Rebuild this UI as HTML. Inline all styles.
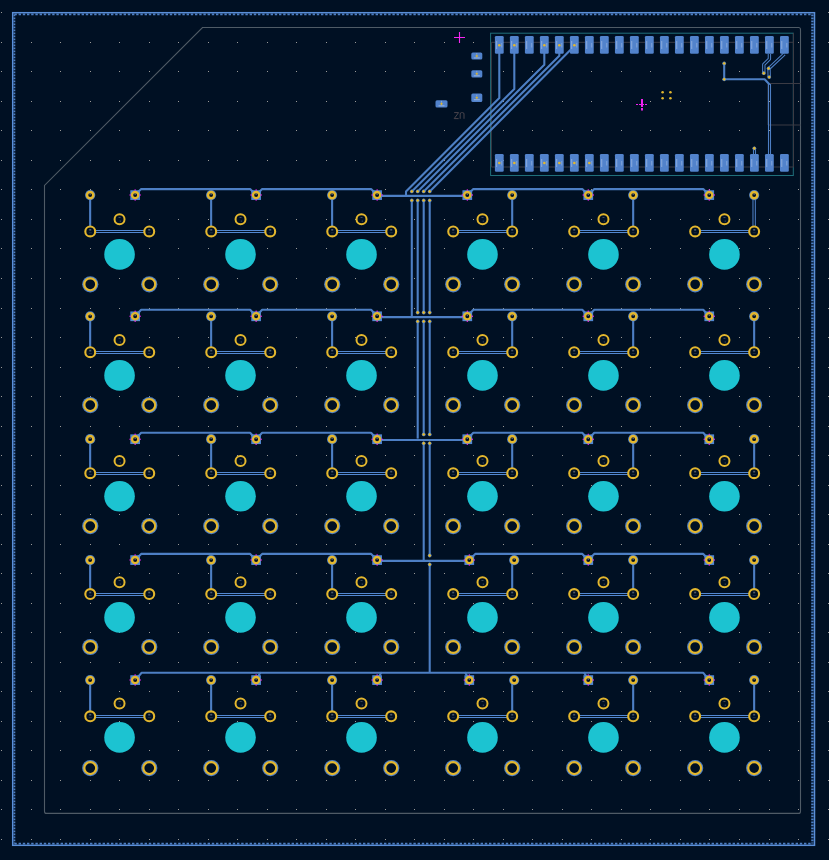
<!DOCTYPE html>
<html><head><meta charset="utf-8"><style>
html,body{margin:0;padding:0;background:#001023;width:829px;height:860px;overflow:hidden}
svg{display:block}
</style></head><body><svg width="829" height="860" viewBox="0 0 829 860"><path d="M1 12h1v1h-1zM1 42h1v1h-1zM1 71h1v1h-1zM1 101h1v1h-1zM1 130h1v1h-1zM1 160h1v1h-1zM1 189h1v1h-1zM1 219h1v1h-1zM1 248h1v1h-1zM1 278h1v1h-1zM1 308h1v1h-1zM1 337h1v1h-1zM1 367h1v1h-1zM1 396h1v1h-1zM1 426h1v1h-1zM1 455h1v1h-1zM1 485h1v1h-1zM1 514h1v1h-1zM1 544h1v1h-1zM1 573h1v1h-1zM1 603h1v1h-1zM1 632h1v1h-1zM1 662h1v1h-1zM1 691h1v1h-1zM1 721h1v1h-1zM1 750h1v1h-1zM1 780h1v1h-1zM1 809h1v1h-1zM1 839h1v1h-1zM31 12h1v1h-1zM31 42h1v1h-1zM31 71h1v1h-1zM31 101h1v1h-1zM31 130h1v1h-1zM31 160h1v1h-1zM31 189h1v1h-1zM31 219h1v1h-1zM31 248h1v1h-1zM31 278h1v1h-1zM31 308h1v1h-1zM31 337h1v1h-1zM31 367h1v1h-1zM31 396h1v1h-1zM31 426h1v1h-1zM31 455h1v1h-1zM31 485h1v1h-1zM31 514h1v1h-1zM31 544h1v1h-1zM31 573h1v1h-1zM31 603h1v1h-1zM31 632h1v1h-1zM31 662h1v1h-1zM31 691h1v1h-1zM31 721h1v1h-1zM31 750h1v1h-1zM31 780h1v1h-1zM31 809h1v1h-1zM31 839h1v1h-1zM60 12h1v1h-1zM60 42h1v1h-1zM60 71h1v1h-1zM60 101h1v1h-1zM60 130h1v1h-1zM60 160h1v1h-1zM60 189h1v1h-1zM60 219h1v1h-1zM60 248h1v1h-1zM60 278h1v1h-1zM60 308h1v1h-1zM60 337h1v1h-1zM60 367h1v1h-1zM60 396h1v1h-1zM60 426h1v1h-1zM60 455h1v1h-1zM60 485h1v1h-1zM60 514h1v1h-1zM60 544h1v1h-1zM60 573h1v1h-1zM60 603h1v1h-1zM60 632h1v1h-1zM60 662h1v1h-1zM60 691h1v1h-1zM60 721h1v1h-1zM60 750h1v1h-1zM60 780h1v1h-1zM60 809h1v1h-1zM60 839h1v1h-1zM90 12h1v1h-1zM90 42h1v1h-1zM90 71h1v1h-1zM90 101h1v1h-1zM90 130h1v1h-1zM90 160h1v1h-1zM90 189h1v1h-1zM90 219h1v1h-1zM90 248h1v1h-1zM90 278h1v1h-1zM90 308h1v1h-1zM90 337h1v1h-1zM90 367h1v1h-1zM90 396h1v1h-1zM90 426h1v1h-1zM90 455h1v1h-1zM90 485h1v1h-1zM90 514h1v1h-1zM90 544h1v1h-1zM90 573h1v1h-1zM90 603h1v1h-1zM90 632h1v1h-1zM90 662h1v1h-1zM90 691h1v1h-1zM90 721h1v1h-1zM90 750h1v1h-1zM90 780h1v1h-1zM90 809h1v1h-1zM90 839h1v1h-1zM119 12h1v1h-1zM119 42h1v1h-1zM119 71h1v1h-1zM119 101h1v1h-1zM119 130h1v1h-1zM119 160h1v1h-1zM119 189h1v1h-1zM119 219h1v1h-1zM119 248h1v1h-1zM119 278h1v1h-1zM119 308h1v1h-1zM119 337h1v1h-1zM119 367h1v1h-1zM119 396h1v1h-1zM119 426h1v1h-1zM119 455h1v1h-1zM119 485h1v1h-1zM119 514h1v1h-1zM119 544h1v1h-1zM119 573h1v1h-1zM119 603h1v1h-1zM119 632h1v1h-1zM119 662h1v1h-1zM119 691h1v1h-1zM119 721h1v1h-1zM119 750h1v1h-1zM119 780h1v1h-1zM119 809h1v1h-1zM119 839h1v1h-1zM149 12h1v1h-1zM149 42h1v1h-1zM149 71h1v1h-1zM149 101h1v1h-1zM149 130h1v1h-1zM149 160h1v1h-1zM149 189h1v1h-1zM149 219h1v1h-1zM149 248h1v1h-1zM149 278h1v1h-1zM149 308h1v1h-1zM149 337h1v1h-1zM149 367h1v1h-1zM149 396h1v1h-1zM149 426h1v1h-1zM149 455h1v1h-1zM149 485h1v1h-1zM149 514h1v1h-1zM149 544h1v1h-1zM149 573h1v1h-1zM149 603h1v1h-1zM149 632h1v1h-1zM149 662h1v1h-1zM149 691h1v1h-1zM149 721h1v1h-1zM149 750h1v1h-1zM149 780h1v1h-1zM149 809h1v1h-1zM149 839h1v1h-1zM178 12h1v1h-1zM178 42h1v1h-1zM178 71h1v1h-1zM178 101h1v1h-1zM178 130h1v1h-1zM178 160h1v1h-1zM178 189h1v1h-1zM178 219h1v1h-1zM178 248h1v1h-1zM178 278h1v1h-1zM178 308h1v1h-1zM178 337h1v1h-1zM178 367h1v1h-1zM178 396h1v1h-1zM178 426h1v1h-1zM178 455h1v1h-1zM178 485h1v1h-1zM178 514h1v1h-1zM178 544h1v1h-1zM178 573h1v1h-1zM178 603h1v1h-1zM178 632h1v1h-1zM178 662h1v1h-1zM178 691h1v1h-1zM178 721h1v1h-1zM178 750h1v1h-1zM178 780h1v1h-1zM178 809h1v1h-1zM178 839h1v1h-1zM208 12h1v1h-1zM208 42h1v1h-1zM208 71h1v1h-1zM208 101h1v1h-1zM208 130h1v1h-1zM208 160h1v1h-1zM208 189h1v1h-1zM208 219h1v1h-1zM208 248h1v1h-1zM208 278h1v1h-1zM208 308h1v1h-1zM208 337h1v1h-1zM208 367h1v1h-1zM208 396h1v1h-1zM208 426h1v1h-1zM208 455h1v1h-1zM208 485h1v1h-1zM208 514h1v1h-1zM208 544h1v1h-1zM208 573h1v1h-1zM208 603h1v1h-1zM208 632h1v1h-1zM208 662h1v1h-1zM208 691h1v1h-1zM208 721h1v1h-1zM208 750h1v1h-1zM208 780h1v1h-1zM208 809h1v1h-1zM208 839h1v1h-1zM237 12h1v1h-1zM237 42h1v1h-1zM237 71h1v1h-1zM237 101h1v1h-1zM237 130h1v1h-1zM237 160h1v1h-1zM237 189h1v1h-1zM237 219h1v1h-1zM237 248h1v1h-1zM237 278h1v1h-1zM237 308h1v1h-1zM237 337h1v1h-1zM237 367h1v1h-1zM237 396h1v1h-1zM237 426h1v1h-1zM237 455h1v1h-1zM237 485h1v1h-1zM237 514h1v1h-1zM237 544h1v1h-1zM237 573h1v1h-1zM237 603h1v1h-1zM237 632h1v1h-1zM237 662h1v1h-1zM237 691h1v1h-1zM237 721h1v1h-1zM237 750h1v1h-1zM237 780h1v1h-1zM237 809h1v1h-1zM237 839h1v1h-1zM267 12h1v1h-1zM267 42h1v1h-1zM267 71h1v1h-1zM267 101h1v1h-1zM267 130h1v1h-1zM267 160h1v1h-1zM267 189h1v1h-1zM267 219h1v1h-1zM267 248h1v1h-1zM267 278h1v1h-1zM267 308h1v1h-1zM267 337h1v1h-1zM267 367h1v1h-1zM267 396h1v1h-1zM267 426h1v1h-1zM267 455h1v1h-1zM267 485h1v1h-1zM267 514h1v1h-1zM267 544h1v1h-1zM267 573h1v1h-1zM267 603h1v1h-1zM267 632h1v1h-1zM267 662h1v1h-1zM267 691h1v1h-1zM267 721h1v1h-1zM267 750h1v1h-1zM267 780h1v1h-1zM267 809h1v1h-1zM267 839h1v1h-1zM296 12h1v1h-1zM296 42h1v1h-1zM296 71h1v1h-1zM296 101h1v1h-1zM296 130h1v1h-1zM296 160h1v1h-1zM296 189h1v1h-1zM296 219h1v1h-1zM296 248h1v1h-1zM296 278h1v1h-1zM296 308h1v1h-1zM296 337h1v1h-1zM296 367h1v1h-1zM296 396h1v1h-1zM296 426h1v1h-1zM296 455h1v1h-1zM296 485h1v1h-1zM296 514h1v1h-1zM296 544h1v1h-1zM296 573h1v1h-1zM296 603h1v1h-1zM296 632h1v1h-1zM296 662h1v1h-1zM296 691h1v1h-1zM296 721h1v1h-1zM296 750h1v1h-1zM296 780h1v1h-1zM296 809h1v1h-1zM296 839h1v1h-1zM326 12h1v1h-1zM326 42h1v1h-1zM326 71h1v1h-1zM326 101h1v1h-1zM326 130h1v1h-1zM326 160h1v1h-1zM326 189h1v1h-1zM326 219h1v1h-1zM326 248h1v1h-1zM326 278h1v1h-1zM326 308h1v1h-1zM326 337h1v1h-1zM326 367h1v1h-1zM326 396h1v1h-1zM326 426h1v1h-1zM326 455h1v1h-1zM326 485h1v1h-1zM326 514h1v1h-1zM326 544h1v1h-1zM326 573h1v1h-1zM326 603h1v1h-1zM326 632h1v1h-1zM326 662h1v1h-1zM326 691h1v1h-1zM326 721h1v1h-1zM326 750h1v1h-1zM326 780h1v1h-1zM326 809h1v1h-1zM326 839h1v1h-1zM355 12h1v1h-1zM355 42h1v1h-1zM355 71h1v1h-1zM355 101h1v1h-1zM355 130h1v1h-1zM355 160h1v1h-1zM355 189h1v1h-1zM355 219h1v1h-1zM355 248h1v1h-1zM355 278h1v1h-1zM355 308h1v1h-1zM355 337h1v1h-1zM355 367h1v1h-1zM355 396h1v1h-1zM355 426h1v1h-1zM355 455h1v1h-1zM355 485h1v1h-1zM355 514h1v1h-1zM355 544h1v1h-1zM355 573h1v1h-1zM355 603h1v1h-1zM355 632h1v1h-1zM355 662h1v1h-1zM355 691h1v1h-1zM355 721h1v1h-1zM355 750h1v1h-1zM355 780h1v1h-1zM355 809h1v1h-1zM355 839h1v1h-1zM385 12h1v1h-1zM385 42h1v1h-1zM385 71h1v1h-1zM385 101h1v1h-1zM385 130h1v1h-1zM385 160h1v1h-1zM385 189h1v1h-1zM385 219h1v1h-1zM385 248h1v1h-1zM385 278h1v1h-1zM385 308h1v1h-1zM385 337h1v1h-1zM385 367h1v1h-1zM385 396h1v1h-1zM385 426h1v1h-1zM385 455h1v1h-1zM385 485h1v1h-1zM385 514h1v1h-1zM385 544h1v1h-1zM385 573h1v1h-1zM385 603h1v1h-1zM385 632h1v1h-1zM385 662h1v1h-1zM385 691h1v1h-1zM385 721h1v1h-1zM385 750h1v1h-1zM385 780h1v1h-1zM385 809h1v1h-1zM385 839h1v1h-1zM414 12h1v1h-1zM414 42h1v1h-1zM414 71h1v1h-1zM414 101h1v1h-1zM414 130h1v1h-1zM414 160h1v1h-1zM414 189h1v1h-1zM414 219h1v1h-1zM414 248h1v1h-1zM414 278h1v1h-1zM414 308h1v1h-1zM414 337h1v1h-1zM414 367h1v1h-1zM414 396h1v1h-1zM414 426h1v1h-1zM414 455h1v1h-1zM414 485h1v1h-1zM414 514h1v1h-1zM414 544h1v1h-1zM414 573h1v1h-1zM414 603h1v1h-1zM414 632h1v1h-1zM414 662h1v1h-1zM414 691h1v1h-1zM414 721h1v1h-1zM414 750h1v1h-1zM414 780h1v1h-1zM414 809h1v1h-1zM414 839h1v1h-1zM444 12h1v1h-1zM444 42h1v1h-1zM444 71h1v1h-1zM444 101h1v1h-1zM444 130h1v1h-1zM444 160h1v1h-1zM444 189h1v1h-1zM444 219h1v1h-1zM444 248h1v1h-1zM444 278h1v1h-1zM444 308h1v1h-1zM444 337h1v1h-1zM444 367h1v1h-1zM444 396h1v1h-1zM444 426h1v1h-1zM444 455h1v1h-1zM444 485h1v1h-1zM444 514h1v1h-1zM444 544h1v1h-1zM444 573h1v1h-1zM444 603h1v1h-1zM444 632h1v1h-1zM444 662h1v1h-1zM444 691h1v1h-1zM444 721h1v1h-1zM444 750h1v1h-1zM444 780h1v1h-1zM444 809h1v1h-1zM444 839h1v1h-1zM473 12h1v1h-1zM473 42h1v1h-1zM473 71h1v1h-1zM473 101h1v1h-1zM473 130h1v1h-1zM473 160h1v1h-1zM473 189h1v1h-1zM473 219h1v1h-1zM473 248h1v1h-1zM473 278h1v1h-1zM473 308h1v1h-1zM473 337h1v1h-1zM473 367h1v1h-1zM473 396h1v1h-1zM473 426h1v1h-1zM473 455h1v1h-1zM473 485h1v1h-1zM473 514h1v1h-1zM473 544h1v1h-1zM473 573h1v1h-1zM473 603h1v1h-1zM473 632h1v1h-1zM473 662h1v1h-1zM473 691h1v1h-1zM473 721h1v1h-1zM473 750h1v1h-1zM473 780h1v1h-1zM473 809h1v1h-1zM473 839h1v1h-1zM503 12h1v1h-1zM503 42h1v1h-1zM503 71h1v1h-1zM503 101h1v1h-1zM503 130h1v1h-1zM503 160h1v1h-1zM503 189h1v1h-1zM503 219h1v1h-1zM503 248h1v1h-1zM503 278h1v1h-1zM503 308h1v1h-1zM503 337h1v1h-1zM503 367h1v1h-1zM503 396h1v1h-1zM503 426h1v1h-1zM503 455h1v1h-1zM503 485h1v1h-1zM503 514h1v1h-1zM503 544h1v1h-1zM503 573h1v1h-1zM503 603h1v1h-1zM503 632h1v1h-1zM503 662h1v1h-1zM503 691h1v1h-1zM503 721h1v1h-1zM503 750h1v1h-1zM503 780h1v1h-1zM503 809h1v1h-1zM503 839h1v1h-1zM532 12h1v1h-1zM532 42h1v1h-1zM532 71h1v1h-1zM532 101h1v1h-1zM532 130h1v1h-1zM532 160h1v1h-1zM532 189h1v1h-1zM532 219h1v1h-1zM532 248h1v1h-1zM532 278h1v1h-1zM532 308h1v1h-1zM532 337h1v1h-1zM532 367h1v1h-1zM532 396h1v1h-1zM532 426h1v1h-1zM532 455h1v1h-1zM532 485h1v1h-1zM532 514h1v1h-1zM532 544h1v1h-1zM532 573h1v1h-1zM532 603h1v1h-1zM532 632h1v1h-1zM532 662h1v1h-1zM532 691h1v1h-1zM532 721h1v1h-1zM532 750h1v1h-1zM532 780h1v1h-1zM532 809h1v1h-1zM532 839h1v1h-1zM562 12h1v1h-1zM562 42h1v1h-1zM562 71h1v1h-1zM562 101h1v1h-1zM562 130h1v1h-1zM562 160h1v1h-1zM562 189h1v1h-1zM562 219h1v1h-1zM562 248h1v1h-1zM562 278h1v1h-1zM562 308h1v1h-1zM562 337h1v1h-1zM562 367h1v1h-1zM562 396h1v1h-1zM562 426h1v1h-1zM562 455h1v1h-1zM562 485h1v1h-1zM562 514h1v1h-1zM562 544h1v1h-1zM562 573h1v1h-1zM562 603h1v1h-1zM562 632h1v1h-1zM562 662h1v1h-1zM562 691h1v1h-1zM562 721h1v1h-1zM562 750h1v1h-1zM562 780h1v1h-1zM562 809h1v1h-1zM562 839h1v1h-1zM591 12h1v1h-1zM591 42h1v1h-1zM591 71h1v1h-1zM591 101h1v1h-1zM591 130h1v1h-1zM591 160h1v1h-1zM591 189h1v1h-1zM591 219h1v1h-1zM591 248h1v1h-1zM591 278h1v1h-1zM591 308h1v1h-1zM591 337h1v1h-1zM591 367h1v1h-1zM591 396h1v1h-1zM591 426h1v1h-1zM591 455h1v1h-1zM591 485h1v1h-1zM591 514h1v1h-1zM591 544h1v1h-1zM591 573h1v1h-1zM591 603h1v1h-1zM591 632h1v1h-1zM591 662h1v1h-1zM591 691h1v1h-1zM591 721h1v1h-1zM591 750h1v1h-1zM591 780h1v1h-1zM591 809h1v1h-1zM591 839h1v1h-1zM621 12h1v1h-1zM621 42h1v1h-1zM621 71h1v1h-1zM621 101h1v1h-1zM621 130h1v1h-1zM621 160h1v1h-1zM621 189h1v1h-1zM621 219h1v1h-1zM621 248h1v1h-1zM621 278h1v1h-1zM621 308h1v1h-1zM621 337h1v1h-1zM621 367h1v1h-1zM621 396h1v1h-1zM621 426h1v1h-1zM621 455h1v1h-1zM621 485h1v1h-1zM621 514h1v1h-1zM621 544h1v1h-1zM621 573h1v1h-1zM621 603h1v1h-1zM621 632h1v1h-1zM621 662h1v1h-1zM621 691h1v1h-1zM621 721h1v1h-1zM621 750h1v1h-1zM621 780h1v1h-1zM621 809h1v1h-1zM621 839h1v1h-1zM650 12h1v1h-1zM650 42h1v1h-1zM650 71h1v1h-1zM650 101h1v1h-1zM650 130h1v1h-1zM650 160h1v1h-1zM650 189h1v1h-1zM650 219h1v1h-1zM650 248h1v1h-1zM650 278h1v1h-1zM650 308h1v1h-1zM650 337h1v1h-1zM650 367h1v1h-1zM650 396h1v1h-1zM650 426h1v1h-1zM650 455h1v1h-1zM650 485h1v1h-1zM650 514h1v1h-1zM650 544h1v1h-1zM650 573h1v1h-1zM650 603h1v1h-1zM650 632h1v1h-1zM650 662h1v1h-1zM650 691h1v1h-1zM650 721h1v1h-1zM650 750h1v1h-1zM650 780h1v1h-1zM650 809h1v1h-1zM650 839h1v1h-1zM680 12h1v1h-1zM680 42h1v1h-1zM680 71h1v1h-1zM680 101h1v1h-1zM680 130h1v1h-1zM680 160h1v1h-1zM680 189h1v1h-1zM680 219h1v1h-1zM680 248h1v1h-1zM680 278h1v1h-1zM680 308h1v1h-1zM680 337h1v1h-1zM680 367h1v1h-1zM680 396h1v1h-1zM680 426h1v1h-1zM680 455h1v1h-1zM680 485h1v1h-1zM680 514h1v1h-1zM680 544h1v1h-1zM680 573h1v1h-1zM680 603h1v1h-1zM680 632h1v1h-1zM680 662h1v1h-1zM680 691h1v1h-1zM680 721h1v1h-1zM680 750h1v1h-1zM680 780h1v1h-1zM680 809h1v1h-1zM680 839h1v1h-1zM709 12h1v1h-1zM709 42h1v1h-1zM709 71h1v1h-1zM709 101h1v1h-1zM709 130h1v1h-1zM709 160h1v1h-1zM709 189h1v1h-1zM709 219h1v1h-1zM709 248h1v1h-1zM709 278h1v1h-1zM709 308h1v1h-1zM709 337h1v1h-1zM709 367h1v1h-1zM709 396h1v1h-1zM709 426h1v1h-1zM709 455h1v1h-1zM709 485h1v1h-1zM709 514h1v1h-1zM709 544h1v1h-1zM709 573h1v1h-1zM709 603h1v1h-1zM709 632h1v1h-1zM709 662h1v1h-1zM709 691h1v1h-1zM709 721h1v1h-1zM709 750h1v1h-1zM709 780h1v1h-1zM709 809h1v1h-1zM709 839h1v1h-1zM739 12h1v1h-1zM739 42h1v1h-1zM739 71h1v1h-1zM739 101h1v1h-1zM739 130h1v1h-1zM739 160h1v1h-1zM739 189h1v1h-1zM739 219h1v1h-1zM739 248h1v1h-1zM739 278h1v1h-1zM739 308h1v1h-1zM739 337h1v1h-1zM739 367h1v1h-1zM739 396h1v1h-1zM739 426h1v1h-1zM739 455h1v1h-1zM739 485h1v1h-1zM739 514h1v1h-1zM739 544h1v1h-1zM739 573h1v1h-1zM739 603h1v1h-1zM739 632h1v1h-1zM739 662h1v1h-1zM739 691h1v1h-1zM739 721h1v1h-1zM739 750h1v1h-1zM739 780h1v1h-1zM739 809h1v1h-1zM739 839h1v1h-1zM769 12h1v1h-1zM769 42h1v1h-1zM769 71h1v1h-1zM769 101h1v1h-1zM769 130h1v1h-1zM769 160h1v1h-1zM769 189h1v1h-1zM769 219h1v1h-1zM769 248h1v1h-1zM769 278h1v1h-1zM769 308h1v1h-1zM769 337h1v1h-1zM769 367h1v1h-1zM769 396h1v1h-1zM769 426h1v1h-1zM769 455h1v1h-1zM769 485h1v1h-1zM769 514h1v1h-1zM769 544h1v1h-1zM769 573h1v1h-1zM769 603h1v1h-1zM769 632h1v1h-1zM769 662h1v1h-1zM769 691h1v1h-1zM769 721h1v1h-1zM769 750h1v1h-1zM769 780h1v1h-1zM769 809h1v1h-1zM769 839h1v1h-1zM798 12h1v1h-1zM798 42h1v1h-1zM798 71h1v1h-1zM798 101h1v1h-1zM798 130h1v1h-1zM798 160h1v1h-1zM798 189h1v1h-1zM798 219h1v1h-1zM798 248h1v1h-1zM798 278h1v1h-1zM798 308h1v1h-1zM798 337h1v1h-1zM798 367h1v1h-1zM798 396h1v1h-1zM798 426h1v1h-1zM798 455h1v1h-1zM798 485h1v1h-1zM798 514h1v1h-1zM798 544h1v1h-1zM798 573h1v1h-1zM798 603h1v1h-1zM798 632h1v1h-1zM798 662h1v1h-1zM798 691h1v1h-1zM798 721h1v1h-1zM798 750h1v1h-1zM798 780h1v1h-1zM798 809h1v1h-1zM798 839h1v1h-1zM828 12h1v1h-1zM828 42h1v1h-1zM828 71h1v1h-1zM828 101h1v1h-1zM828 130h1v1h-1zM828 160h1v1h-1zM828 189h1v1h-1zM828 219h1v1h-1zM828 248h1v1h-1zM828 278h1v1h-1zM828 308h1v1h-1zM828 337h1v1h-1zM828 367h1v1h-1zM828 396h1v1h-1zM828 426h1v1h-1zM828 455h1v1h-1zM828 485h1v1h-1zM828 514h1v1h-1zM828 544h1v1h-1zM828 573h1v1h-1zM828 603h1v1h-1zM828 632h1v1h-1zM828 662h1v1h-1zM828 691h1v1h-1zM828 721h1v1h-1zM828 750h1v1h-1zM828 780h1v1h-1zM828 809h1v1h-1zM828 839h1v1h-1z" fill="#9a9a98"/><rect x="12.7" y="12.7" width="801.8" height="832.6" fill="none" stroke="#5a8fd8" stroke-width="1.5"/><path d="M14.4 14.4V843.6" stroke="#4d7fc4" stroke-width="1.8" stroke-dasharray="1.8 1.2"/><path d="M812.4 14.4V843.6" stroke="#4d7fc4" stroke-width="2.4" stroke-dasharray="1.8 1.2"/><path d="M14.4 14.4H812.4M14.4 843.6H812.4" stroke="#4d7fc4" stroke-width="1.8" stroke-dasharray="2.4 1.8"/><path d="M202.5 27.5H798.5Q800.5 27.5 800.5 29.5V811.4Q800.5 813.4 798.5 813.4H46.5Q44.5 813.4 44.5 811.4V185.4Z" fill="none" stroke="#4f5b66" stroke-width="1.1"/><polyline points="90.15,195.10 90.15,231.40" fill="none" stroke="#4d7fc4" stroke-width="2.1" stroke-linejoin="round" stroke-linecap="round"/><line x1="90.25" y1="230.50" x2="149.25" y2="230.50" stroke="#5288d2" stroke-width="1.1"/><line x1="90.25" y1="232.50" x2="149.25" y2="232.50" stroke="#5288d2" stroke-width="1.1"/><polyline points="211.13,195.10 211.13,231.40" fill="none" stroke="#4d7fc4" stroke-width="2.1" stroke-linejoin="round" stroke-linecap="round"/><line x1="211.23" y1="230.50" x2="270.23" y2="230.50" stroke="#5288d2" stroke-width="1.1"/><line x1="211.23" y1="232.50" x2="270.23" y2="232.50" stroke="#5288d2" stroke-width="1.1"/><polyline points="332.11,195.10 332.11,231.40" fill="none" stroke="#4d7fc4" stroke-width="2.1" stroke-linejoin="round" stroke-linecap="round"/><line x1="332.21" y1="230.50" x2="391.21" y2="230.50" stroke="#5288d2" stroke-width="1.1"/><line x1="332.21" y1="232.50" x2="391.21" y2="232.50" stroke="#5288d2" stroke-width="1.1"/><polyline points="512.19,195.10 512.19,231.40" fill="none" stroke="#4d7fc4" stroke-width="2.1" stroke-linejoin="round" stroke-linecap="round"/><line x1="453.19" y1="230.50" x2="512.19" y2="230.50" stroke="#5288d2" stroke-width="1.1"/><line x1="453.19" y1="232.50" x2="512.19" y2="232.50" stroke="#5288d2" stroke-width="1.1"/><polyline points="633.17,195.10 633.17,231.40" fill="none" stroke="#4d7fc4" stroke-width="2.1" stroke-linejoin="round" stroke-linecap="round"/><line x1="574.17" y1="230.50" x2="633.17" y2="230.50" stroke="#5288d2" stroke-width="1.1"/><line x1="574.17" y1="232.50" x2="633.17" y2="232.50" stroke="#5288d2" stroke-width="1.1"/><polyline points="754.15,195.10 754.15,231.40" fill="none" stroke="#4d7fc4" stroke-width="3.4" stroke-linejoin="round"/><polyline points="754.15,195.10 754.15,231.40" fill="none" stroke="#001023" stroke-width="1.3" stroke-linejoin="round"/><line x1="695.15" y1="230.50" x2="754.15" y2="230.50" stroke="#5288d2" stroke-width="1.1"/><line x1="695.15" y1="232.50" x2="754.15" y2="232.50" stroke="#5288d2" stroke-width="1.1"/><polyline points="135.15,195.10 141.15,189.10 250.13,189.10 256.13,195.10 262.13,189.10 371.11,189.10 377.11,195.10" fill="none" stroke="#4d7fc4" stroke-width="2.1" stroke-linejoin="round" stroke-linecap="round"/><polyline points="377.11,195.90 467.29,195.90" fill="none" stroke="#4d7fc4" stroke-width="2.1" stroke-linejoin="round" stroke-linecap="round"/><polyline points="467.29,195.10 473.29,189.10 582.27,189.10 588.27,195.10 594.27,189.10 703.25,189.10 709.25,195.10" fill="none" stroke="#4d7fc4" stroke-width="2.1" stroke-linejoin="round" stroke-linecap="round"/><circle cx="90.15" cy="195.10" r="5.10" fill="#4d7fc4"/><circle cx="90.15" cy="195.10" r="3.15" fill="#001023" stroke="#e3b72e" stroke-width="2.5"/><rect x="89.55" y="193.50" width="1.2" height="1.4" fill="#c8d0e0" opacity="0.5"/><rect x="130.30" y="190.25" width="9.7" height="9.7" fill="#5288d2"/><circle cx="135.15" cy="195.10" r="3.10" fill="#001023" stroke="#e3b72e" stroke-width="2.3"/><rect x="134.55" y="193.50" width="1.2" height="1.4" fill="#c8d0e0" opacity="0.5"/><circle cx="135.15" cy="190.10" r="0.75" fill="#ee22ee"/><circle cx="135.15" cy="200.10" r="0.75" fill="#ee22ee"/><circle cx="130.15" cy="195.10" r="0.75" fill="#ee22ee"/><circle cx="140.15" cy="195.10" r="0.75" fill="#ee22ee"/><circle cx="119.55" cy="219.30" r="5.00" fill="#001023" stroke="#e3b72e" stroke-width="2.0"/><circle cx="90.25" cy="231.40" r="4.95" fill="#001023" stroke="#e3b72e" stroke-width="2.1"/><circle cx="149.25" cy="231.40" r="4.95" fill="#001023" stroke="#e3b72e" stroke-width="2.1"/><rect x="89.25" y="229.00" width="2" height="1.6" fill="#c0c8d8" opacity="0.4"/><rect x="88.85" y="232.30" width="3" height="0.9" fill="#8090b0" opacity="0.25"/><rect x="148.25" y="229.00" width="2" height="1.6" fill="#c0c8d8" opacity="0.4"/><rect x="147.85" y="232.30" width="3" height="0.9" fill="#8090b0" opacity="0.25"/><rect x="118.55" y="217.00" width="2" height="0.9" fill="#c0c8d8" opacity="0.35"/><rect x="119.75" y="220.50" width="1.3" height="1.3" fill="#a0b0c8" opacity="0.3"/><circle cx="119.55" cy="254.40" r="15.3" fill="#1cc3d1"/><circle cx="90.25" cy="284.30" r="8.10" fill="#4d7fc4"/><circle cx="90.25" cy="284.30" r="5.95" fill="#001023" stroke="#e3b72e" stroke-width="2.2"/><circle cx="149.25" cy="284.30" r="8.10" fill="#4d7fc4"/><circle cx="149.25" cy="284.30" r="5.95" fill="#001023" stroke="#e3b72e" stroke-width="2.2"/><circle cx="211.13" cy="195.10" r="5.10" fill="#4d7fc4"/><circle cx="211.13" cy="195.10" r="3.15" fill="#001023" stroke="#e3b72e" stroke-width="2.5"/><rect x="210.53" y="193.50" width="1.2" height="1.4" fill="#c8d0e0" opacity="0.5"/><rect x="251.28" y="190.25" width="9.7" height="9.7" fill="#5288d2"/><circle cx="256.13" cy="195.10" r="3.10" fill="#001023" stroke="#e3b72e" stroke-width="2.3"/><rect x="255.53" y="193.50" width="1.2" height="1.4" fill="#c8d0e0" opacity="0.5"/><circle cx="256.13" cy="190.10" r="0.75" fill="#ee22ee"/><circle cx="256.13" cy="200.10" r="0.75" fill="#ee22ee"/><circle cx="251.13" cy="195.10" r="0.75" fill="#ee22ee"/><circle cx="261.13" cy="195.10" r="0.75" fill="#ee22ee"/><circle cx="240.53" cy="219.30" r="5.00" fill="#001023" stroke="#e3b72e" stroke-width="2.0"/><circle cx="211.23" cy="231.40" r="4.95" fill="#001023" stroke="#e3b72e" stroke-width="2.1"/><circle cx="270.23" cy="231.40" r="4.95" fill="#001023" stroke="#e3b72e" stroke-width="2.1"/><rect x="210.23" y="229.00" width="2" height="1.6" fill="#c0c8d8" opacity="0.4"/><rect x="209.83" y="232.30" width="3" height="0.9" fill="#8090b0" opacity="0.25"/><rect x="269.23" y="229.00" width="2" height="1.6" fill="#c0c8d8" opacity="0.4"/><rect x="268.83" y="232.30" width="3" height="0.9" fill="#8090b0" opacity="0.25"/><rect x="239.53" y="217.00" width="2" height="0.9" fill="#c0c8d8" opacity="0.35"/><rect x="240.73" y="220.50" width="1.3" height="1.3" fill="#a0b0c8" opacity="0.3"/><circle cx="240.53" cy="254.40" r="15.3" fill="#1cc3d1"/><circle cx="211.23" cy="284.30" r="8.10" fill="#4d7fc4"/><circle cx="211.23" cy="284.30" r="5.95" fill="#001023" stroke="#e3b72e" stroke-width="2.2"/><circle cx="270.23" cy="284.30" r="8.10" fill="#4d7fc4"/><circle cx="270.23" cy="284.30" r="5.95" fill="#001023" stroke="#e3b72e" stroke-width="2.2"/><circle cx="332.11" cy="195.10" r="5.10" fill="#4d7fc4"/><circle cx="332.11" cy="195.10" r="3.15" fill="#001023" stroke="#e3b72e" stroke-width="2.5"/><rect x="331.51" y="193.50" width="1.2" height="1.4" fill="#c8d0e0" opacity="0.5"/><rect x="372.26" y="190.25" width="9.7" height="9.7" fill="#5288d2"/><circle cx="377.11" cy="195.10" r="3.10" fill="#001023" stroke="#e3b72e" stroke-width="2.3"/><rect x="376.51" y="193.50" width="1.2" height="1.4" fill="#c8d0e0" opacity="0.5"/><circle cx="377.11" cy="190.10" r="0.75" fill="#ee22ee"/><circle cx="377.11" cy="200.10" r="0.75" fill="#ee22ee"/><circle cx="372.11" cy="195.10" r="0.75" fill="#ee22ee"/><circle cx="382.11" cy="195.10" r="0.75" fill="#ee22ee"/><circle cx="361.51" cy="219.30" r="5.00" fill="#001023" stroke="#e3b72e" stroke-width="2.0"/><circle cx="332.21" cy="231.40" r="4.95" fill="#001023" stroke="#e3b72e" stroke-width="2.1"/><circle cx="391.21" cy="231.40" r="4.95" fill="#001023" stroke="#e3b72e" stroke-width="2.1"/><rect x="331.21" y="229.00" width="2" height="1.6" fill="#c0c8d8" opacity="0.4"/><rect x="330.81" y="232.30" width="3" height="0.9" fill="#8090b0" opacity="0.25"/><rect x="390.21" y="229.00" width="2" height="1.6" fill="#c0c8d8" opacity="0.4"/><rect x="389.81" y="232.30" width="3" height="0.9" fill="#8090b0" opacity="0.25"/><rect x="360.51" y="217.00" width="2" height="0.9" fill="#c0c8d8" opacity="0.35"/><rect x="361.71" y="220.50" width="1.3" height="1.3" fill="#a0b0c8" opacity="0.3"/><circle cx="361.51" cy="254.40" r="15.3" fill="#1cc3d1"/><circle cx="332.21" cy="284.30" r="8.10" fill="#4d7fc4"/><circle cx="332.21" cy="284.30" r="5.95" fill="#001023" stroke="#e3b72e" stroke-width="2.2"/><circle cx="391.21" cy="284.30" r="8.10" fill="#4d7fc4"/><circle cx="391.21" cy="284.30" r="5.95" fill="#001023" stroke="#e3b72e" stroke-width="2.2"/><circle cx="512.19" cy="195.10" r="5.10" fill="#4d7fc4"/><circle cx="512.19" cy="195.10" r="3.15" fill="#001023" stroke="#e3b72e" stroke-width="2.5"/><rect x="511.59" y="193.50" width="1.2" height="1.4" fill="#c8d0e0" opacity="0.5"/><rect x="462.44" y="190.25" width="9.7" height="9.7" fill="#5288d2"/><circle cx="467.29" cy="195.10" r="3.10" fill="#001023" stroke="#e3b72e" stroke-width="2.3"/><rect x="466.69" y="193.50" width="1.2" height="1.4" fill="#c8d0e0" opacity="0.5"/><circle cx="467.29" cy="190.10" r="0.75" fill="#ee22ee"/><circle cx="467.29" cy="200.10" r="0.75" fill="#ee22ee"/><circle cx="462.29" cy="195.10" r="0.75" fill="#ee22ee"/><circle cx="472.29" cy="195.10" r="0.75" fill="#ee22ee"/><circle cx="482.49" cy="219.30" r="5.00" fill="#001023" stroke="#e3b72e" stroke-width="2.0"/><circle cx="453.19" cy="231.40" r="4.95" fill="#001023" stroke="#e3b72e" stroke-width="2.1"/><circle cx="512.19" cy="231.40" r="4.95" fill="#001023" stroke="#e3b72e" stroke-width="2.1"/><rect x="452.19" y="229.00" width="2" height="1.6" fill="#c0c8d8" opacity="0.4"/><rect x="451.79" y="232.30" width="3" height="0.9" fill="#8090b0" opacity="0.25"/><rect x="511.19" y="229.00" width="2" height="1.6" fill="#c0c8d8" opacity="0.4"/><rect x="510.79" y="232.30" width="3" height="0.9" fill="#8090b0" opacity="0.25"/><rect x="481.49" y="217.00" width="2" height="0.9" fill="#c0c8d8" opacity="0.35"/><rect x="482.69" y="220.50" width="1.3" height="1.3" fill="#a0b0c8" opacity="0.3"/><circle cx="482.49" cy="254.40" r="15.3" fill="#1cc3d1"/><circle cx="453.19" cy="284.30" r="8.10" fill="#4d7fc4"/><circle cx="453.19" cy="284.30" r="5.95" fill="#001023" stroke="#e3b72e" stroke-width="2.2"/><circle cx="512.19" cy="284.30" r="8.10" fill="#4d7fc4"/><circle cx="512.19" cy="284.30" r="5.95" fill="#001023" stroke="#e3b72e" stroke-width="2.2"/><circle cx="633.17" cy="195.10" r="5.10" fill="#4d7fc4"/><circle cx="633.17" cy="195.10" r="3.15" fill="#001023" stroke="#e3b72e" stroke-width="2.5"/><rect x="632.57" y="193.50" width="1.2" height="1.4" fill="#c8d0e0" opacity="0.5"/><rect x="583.42" y="190.25" width="9.7" height="9.7" fill="#5288d2"/><circle cx="588.27" cy="195.10" r="3.10" fill="#001023" stroke="#e3b72e" stroke-width="2.3"/><rect x="587.67" y="193.50" width="1.2" height="1.4" fill="#c8d0e0" opacity="0.5"/><circle cx="588.27" cy="190.10" r="0.75" fill="#ee22ee"/><circle cx="588.27" cy="200.10" r="0.75" fill="#ee22ee"/><circle cx="583.27" cy="195.10" r="0.75" fill="#ee22ee"/><circle cx="593.27" cy="195.10" r="0.75" fill="#ee22ee"/><circle cx="603.47" cy="219.30" r="5.00" fill="#001023" stroke="#e3b72e" stroke-width="2.0"/><circle cx="574.17" cy="231.40" r="4.95" fill="#001023" stroke="#e3b72e" stroke-width="2.1"/><circle cx="633.17" cy="231.40" r="4.95" fill="#001023" stroke="#e3b72e" stroke-width="2.1"/><rect x="573.17" y="229.00" width="2" height="1.6" fill="#c0c8d8" opacity="0.4"/><rect x="572.77" y="232.30" width="3" height="0.9" fill="#8090b0" opacity="0.25"/><rect x="632.17" y="229.00" width="2" height="1.6" fill="#c0c8d8" opacity="0.4"/><rect x="631.77" y="232.30" width="3" height="0.9" fill="#8090b0" opacity="0.25"/><rect x="602.47" y="217.00" width="2" height="0.9" fill="#c0c8d8" opacity="0.35"/><rect x="603.67" y="220.50" width="1.3" height="1.3" fill="#a0b0c8" opacity="0.3"/><circle cx="603.47" cy="254.40" r="15.3" fill="#1cc3d1"/><circle cx="574.17" cy="284.30" r="8.10" fill="#4d7fc4"/><circle cx="574.17" cy="284.30" r="5.95" fill="#001023" stroke="#e3b72e" stroke-width="2.2"/><circle cx="633.17" cy="284.30" r="8.10" fill="#4d7fc4"/><circle cx="633.17" cy="284.30" r="5.95" fill="#001023" stroke="#e3b72e" stroke-width="2.2"/><circle cx="754.15" cy="195.10" r="5.10" fill="#4d7fc4"/><circle cx="754.15" cy="195.10" r="3.15" fill="#001023" stroke="#e3b72e" stroke-width="2.5"/><rect x="753.55" y="193.50" width="1.2" height="1.4" fill="#c8d0e0" opacity="0.5"/><rect x="704.40" y="190.25" width="9.7" height="9.7" fill="#5288d2"/><circle cx="709.25" cy="195.10" r="3.10" fill="#001023" stroke="#e3b72e" stroke-width="2.3"/><rect x="708.65" y="193.50" width="1.2" height="1.4" fill="#c8d0e0" opacity="0.5"/><circle cx="709.25" cy="190.10" r="0.75" fill="#ee22ee"/><circle cx="709.25" cy="200.10" r="0.75" fill="#ee22ee"/><circle cx="704.25" cy="195.10" r="0.75" fill="#ee22ee"/><circle cx="714.25" cy="195.10" r="0.75" fill="#ee22ee"/><circle cx="724.45" cy="219.30" r="5.00" fill="#001023" stroke="#e3b72e" stroke-width="2.0"/><circle cx="695.15" cy="231.40" r="4.95" fill="#001023" stroke="#e3b72e" stroke-width="2.1"/><circle cx="754.15" cy="231.40" r="4.95" fill="#001023" stroke="#e3b72e" stroke-width="2.1"/><rect x="694.15" y="229.00" width="2" height="1.6" fill="#c0c8d8" opacity="0.4"/><rect x="693.75" y="232.30" width="3" height="0.9" fill="#8090b0" opacity="0.25"/><rect x="753.15" y="229.00" width="2" height="1.6" fill="#c0c8d8" opacity="0.4"/><rect x="752.75" y="232.30" width="3" height="0.9" fill="#8090b0" opacity="0.25"/><rect x="723.45" y="217.00" width="2" height="0.9" fill="#c0c8d8" opacity="0.35"/><rect x="724.65" y="220.50" width="1.3" height="1.3" fill="#a0b0c8" opacity="0.3"/><circle cx="724.45" cy="254.40" r="15.3" fill="#1cc3d1"/><circle cx="695.15" cy="284.30" r="8.10" fill="#4d7fc4"/><circle cx="695.15" cy="284.30" r="5.95" fill="#001023" stroke="#e3b72e" stroke-width="2.2"/><circle cx="754.15" cy="284.30" r="8.10" fill="#4d7fc4"/><circle cx="754.15" cy="284.30" r="5.95" fill="#001023" stroke="#e3b72e" stroke-width="2.2"/><polyline points="90.15,316.30 90.15,352.20" fill="none" stroke="#4d7fc4" stroke-width="2.1" stroke-linejoin="round" stroke-linecap="round"/><line x1="90.25" y1="351.50" x2="149.25" y2="351.50" stroke="#5288d2" stroke-width="1.1"/><line x1="90.25" y1="353.50" x2="149.25" y2="353.50" stroke="#5288d2" stroke-width="1.1"/><polyline points="211.13,316.30 211.13,352.20" fill="none" stroke="#4d7fc4" stroke-width="2.1" stroke-linejoin="round" stroke-linecap="round"/><line x1="211.23" y1="351.50" x2="270.23" y2="351.50" stroke="#5288d2" stroke-width="1.1"/><line x1="211.23" y1="353.50" x2="270.23" y2="353.50" stroke="#5288d2" stroke-width="1.1"/><polyline points="332.11,316.30 332.11,352.20" fill="none" stroke="#4d7fc4" stroke-width="2.1" stroke-linejoin="round" stroke-linecap="round"/><line x1="332.21" y1="351.50" x2="391.21" y2="351.50" stroke="#5288d2" stroke-width="1.1"/><line x1="332.21" y1="353.50" x2="391.21" y2="353.50" stroke="#5288d2" stroke-width="1.1"/><polyline points="512.19,316.30 512.19,352.20" fill="none" stroke="#4d7fc4" stroke-width="2.1" stroke-linejoin="round" stroke-linecap="round"/><line x1="453.19" y1="351.50" x2="512.19" y2="351.50" stroke="#5288d2" stroke-width="1.1"/><line x1="453.19" y1="353.50" x2="512.19" y2="353.50" stroke="#5288d2" stroke-width="1.1"/><polyline points="633.17,316.30 633.17,352.20" fill="none" stroke="#4d7fc4" stroke-width="2.1" stroke-linejoin="round" stroke-linecap="round"/><line x1="574.17" y1="351.50" x2="633.17" y2="351.50" stroke="#5288d2" stroke-width="1.1"/><line x1="574.17" y1="353.50" x2="633.17" y2="353.50" stroke="#5288d2" stroke-width="1.1"/><polyline points="754.15,316.30 754.15,352.20" fill="none" stroke="#4d7fc4" stroke-width="2.1" stroke-linejoin="round" stroke-linecap="round"/><line x1="695.15" y1="351.50" x2="754.15" y2="351.50" stroke="#5288d2" stroke-width="1.1"/><line x1="695.15" y1="353.50" x2="754.15" y2="353.50" stroke="#5288d2" stroke-width="1.1"/><polyline points="135.15,316.30 141.15,309.80 250.13,309.80 256.13,316.30 262.13,309.80 371.11,309.80 377.11,316.30" fill="none" stroke="#4d7fc4" stroke-width="2.1" stroke-linejoin="round" stroke-linecap="round"/><polyline points="377.11,317.10 467.29,317.10" fill="none" stroke="#4d7fc4" stroke-width="2.1" stroke-linejoin="round" stroke-linecap="round"/><polyline points="467.29,316.30 473.29,309.80 582.27,309.80 588.27,316.30 594.27,309.80 703.25,309.80 709.25,316.30" fill="none" stroke="#4d7fc4" stroke-width="2.1" stroke-linejoin="round" stroke-linecap="round"/><circle cx="90.15" cy="316.30" r="5.10" fill="#4d7fc4"/><circle cx="90.15" cy="316.30" r="3.15" fill="#001023" stroke="#e3b72e" stroke-width="2.5"/><rect x="89.55" y="314.70" width="1.2" height="1.4" fill="#c8d0e0" opacity="0.5"/><rect x="130.30" y="311.45" width="9.7" height="9.7" fill="#5288d2"/><circle cx="135.15" cy="316.30" r="3.10" fill="#001023" stroke="#e3b72e" stroke-width="2.3"/><rect x="134.55" y="314.70" width="1.2" height="1.4" fill="#c8d0e0" opacity="0.5"/><circle cx="135.15" cy="311.30" r="0.75" fill="#ee22ee"/><circle cx="135.15" cy="321.30" r="0.75" fill="#ee22ee"/><circle cx="130.15" cy="316.30" r="0.75" fill="#ee22ee"/><circle cx="140.15" cy="316.30" r="0.75" fill="#ee22ee"/><circle cx="119.55" cy="340.10" r="5.00" fill="#001023" stroke="#e3b72e" stroke-width="2.0"/><circle cx="90.25" cy="352.20" r="4.95" fill="#001023" stroke="#e3b72e" stroke-width="2.1"/><circle cx="149.25" cy="352.20" r="4.95" fill="#001023" stroke="#e3b72e" stroke-width="2.1"/><rect x="89.25" y="349.80" width="2" height="1.6" fill="#c0c8d8" opacity="0.4"/><rect x="88.85" y="353.10" width="3" height="0.9" fill="#8090b0" opacity="0.25"/><rect x="148.25" y="349.80" width="2" height="1.6" fill="#c0c8d8" opacity="0.4"/><rect x="147.85" y="353.10" width="3" height="0.9" fill="#8090b0" opacity="0.25"/><rect x="118.55" y="337.80" width="2" height="0.9" fill="#c0c8d8" opacity="0.35"/><rect x="119.75" y="341.30" width="1.3" height="1.3" fill="#a0b0c8" opacity="0.3"/><circle cx="119.55" cy="375.40" r="15.3" fill="#1cc3d1"/><circle cx="90.25" cy="405.10" r="8.10" fill="#4d7fc4"/><circle cx="90.25" cy="405.10" r="5.95" fill="#001023" stroke="#e3b72e" stroke-width="2.2"/><circle cx="149.25" cy="405.10" r="8.10" fill="#4d7fc4"/><circle cx="149.25" cy="405.10" r="5.95" fill="#001023" stroke="#e3b72e" stroke-width="2.2"/><circle cx="211.13" cy="316.30" r="5.10" fill="#4d7fc4"/><circle cx="211.13" cy="316.30" r="3.15" fill="#001023" stroke="#e3b72e" stroke-width="2.5"/><rect x="210.53" y="314.70" width="1.2" height="1.4" fill="#c8d0e0" opacity="0.5"/><rect x="251.28" y="311.45" width="9.7" height="9.7" fill="#5288d2"/><circle cx="256.13" cy="316.30" r="3.10" fill="#001023" stroke="#e3b72e" stroke-width="2.3"/><rect x="255.53" y="314.70" width="1.2" height="1.4" fill="#c8d0e0" opacity="0.5"/><circle cx="256.13" cy="311.30" r="0.75" fill="#ee22ee"/><circle cx="256.13" cy="321.30" r="0.75" fill="#ee22ee"/><circle cx="251.13" cy="316.30" r="0.75" fill="#ee22ee"/><circle cx="261.13" cy="316.30" r="0.75" fill="#ee22ee"/><circle cx="240.53" cy="340.10" r="5.00" fill="#001023" stroke="#e3b72e" stroke-width="2.0"/><circle cx="211.23" cy="352.20" r="4.95" fill="#001023" stroke="#e3b72e" stroke-width="2.1"/><circle cx="270.23" cy="352.20" r="4.95" fill="#001023" stroke="#e3b72e" stroke-width="2.1"/><rect x="210.23" y="349.80" width="2" height="1.6" fill="#c0c8d8" opacity="0.4"/><rect x="209.83" y="353.10" width="3" height="0.9" fill="#8090b0" opacity="0.25"/><rect x="269.23" y="349.80" width="2" height="1.6" fill="#c0c8d8" opacity="0.4"/><rect x="268.83" y="353.10" width="3" height="0.9" fill="#8090b0" opacity="0.25"/><rect x="239.53" y="337.80" width="2" height="0.9" fill="#c0c8d8" opacity="0.35"/><rect x="240.73" y="341.30" width="1.3" height="1.3" fill="#a0b0c8" opacity="0.3"/><circle cx="240.53" cy="375.40" r="15.3" fill="#1cc3d1"/><circle cx="211.23" cy="405.10" r="8.10" fill="#4d7fc4"/><circle cx="211.23" cy="405.10" r="5.95" fill="#001023" stroke="#e3b72e" stroke-width="2.2"/><circle cx="270.23" cy="405.10" r="8.10" fill="#4d7fc4"/><circle cx="270.23" cy="405.10" r="5.95" fill="#001023" stroke="#e3b72e" stroke-width="2.2"/><circle cx="332.11" cy="316.30" r="5.10" fill="#4d7fc4"/><circle cx="332.11" cy="316.30" r="3.15" fill="#001023" stroke="#e3b72e" stroke-width="2.5"/><rect x="331.51" y="314.70" width="1.2" height="1.4" fill="#c8d0e0" opacity="0.5"/><rect x="372.26" y="311.45" width="9.7" height="9.7" fill="#5288d2"/><circle cx="377.11" cy="316.30" r="3.10" fill="#001023" stroke="#e3b72e" stroke-width="2.3"/><rect x="376.51" y="314.70" width="1.2" height="1.4" fill="#c8d0e0" opacity="0.5"/><circle cx="377.11" cy="311.30" r="0.75" fill="#ee22ee"/><circle cx="377.11" cy="321.30" r="0.75" fill="#ee22ee"/><circle cx="372.11" cy="316.30" r="0.75" fill="#ee22ee"/><circle cx="382.11" cy="316.30" r="0.75" fill="#ee22ee"/><circle cx="361.51" cy="340.10" r="5.00" fill="#001023" stroke="#e3b72e" stroke-width="2.0"/><circle cx="332.21" cy="352.20" r="4.95" fill="#001023" stroke="#e3b72e" stroke-width="2.1"/><circle cx="391.21" cy="352.20" r="4.95" fill="#001023" stroke="#e3b72e" stroke-width="2.1"/><rect x="331.21" y="349.80" width="2" height="1.6" fill="#c0c8d8" opacity="0.4"/><rect x="330.81" y="353.10" width="3" height="0.9" fill="#8090b0" opacity="0.25"/><rect x="390.21" y="349.80" width="2" height="1.6" fill="#c0c8d8" opacity="0.4"/><rect x="389.81" y="353.10" width="3" height="0.9" fill="#8090b0" opacity="0.25"/><rect x="360.51" y="337.80" width="2" height="0.9" fill="#c0c8d8" opacity="0.35"/><rect x="361.71" y="341.30" width="1.3" height="1.3" fill="#a0b0c8" opacity="0.3"/><circle cx="361.51" cy="375.40" r="15.3" fill="#1cc3d1"/><circle cx="332.21" cy="405.10" r="8.10" fill="#4d7fc4"/><circle cx="332.21" cy="405.10" r="5.95" fill="#001023" stroke="#e3b72e" stroke-width="2.2"/><circle cx="391.21" cy="405.10" r="8.10" fill="#4d7fc4"/><circle cx="391.21" cy="405.10" r="5.95" fill="#001023" stroke="#e3b72e" stroke-width="2.2"/><circle cx="512.19" cy="316.30" r="5.10" fill="#4d7fc4"/><circle cx="512.19" cy="316.30" r="3.15" fill="#001023" stroke="#e3b72e" stroke-width="2.5"/><rect x="511.59" y="314.70" width="1.2" height="1.4" fill="#c8d0e0" opacity="0.5"/><rect x="462.44" y="311.45" width="9.7" height="9.7" fill="#5288d2"/><circle cx="467.29" cy="316.30" r="3.10" fill="#001023" stroke="#e3b72e" stroke-width="2.3"/><rect x="466.69" y="314.70" width="1.2" height="1.4" fill="#c8d0e0" opacity="0.5"/><circle cx="467.29" cy="311.30" r="0.75" fill="#ee22ee"/><circle cx="467.29" cy="321.30" r="0.75" fill="#ee22ee"/><circle cx="462.29" cy="316.30" r="0.75" fill="#ee22ee"/><circle cx="472.29" cy="316.30" r="0.75" fill="#ee22ee"/><circle cx="482.49" cy="340.10" r="5.00" fill="#001023" stroke="#e3b72e" stroke-width="2.0"/><circle cx="453.19" cy="352.20" r="4.95" fill="#001023" stroke="#e3b72e" stroke-width="2.1"/><circle cx="512.19" cy="352.20" r="4.95" fill="#001023" stroke="#e3b72e" stroke-width="2.1"/><rect x="452.19" y="349.80" width="2" height="1.6" fill="#c0c8d8" opacity="0.4"/><rect x="451.79" y="353.10" width="3" height="0.9" fill="#8090b0" opacity="0.25"/><rect x="511.19" y="349.80" width="2" height="1.6" fill="#c0c8d8" opacity="0.4"/><rect x="510.79" y="353.10" width="3" height="0.9" fill="#8090b0" opacity="0.25"/><rect x="481.49" y="337.80" width="2" height="0.9" fill="#c0c8d8" opacity="0.35"/><rect x="482.69" y="341.30" width="1.3" height="1.3" fill="#a0b0c8" opacity="0.3"/><circle cx="482.49" cy="375.40" r="15.3" fill="#1cc3d1"/><circle cx="453.19" cy="405.10" r="8.10" fill="#4d7fc4"/><circle cx="453.19" cy="405.10" r="5.95" fill="#001023" stroke="#e3b72e" stroke-width="2.2"/><circle cx="512.19" cy="405.10" r="8.10" fill="#4d7fc4"/><circle cx="512.19" cy="405.10" r="5.95" fill="#001023" stroke="#e3b72e" stroke-width="2.2"/><circle cx="633.17" cy="316.30" r="5.10" fill="#4d7fc4"/><circle cx="633.17" cy="316.30" r="3.15" fill="#001023" stroke="#e3b72e" stroke-width="2.5"/><rect x="632.57" y="314.70" width="1.2" height="1.4" fill="#c8d0e0" opacity="0.5"/><rect x="583.42" y="311.45" width="9.7" height="9.7" fill="#5288d2"/><circle cx="588.27" cy="316.30" r="3.10" fill="#001023" stroke="#e3b72e" stroke-width="2.3"/><rect x="587.67" y="314.70" width="1.2" height="1.4" fill="#c8d0e0" opacity="0.5"/><circle cx="588.27" cy="311.30" r="0.75" fill="#ee22ee"/><circle cx="588.27" cy="321.30" r="0.75" fill="#ee22ee"/><circle cx="583.27" cy="316.30" r="0.75" fill="#ee22ee"/><circle cx="593.27" cy="316.30" r="0.75" fill="#ee22ee"/><circle cx="603.47" cy="340.10" r="5.00" fill="#001023" stroke="#e3b72e" stroke-width="2.0"/><circle cx="574.17" cy="352.20" r="4.95" fill="#001023" stroke="#e3b72e" stroke-width="2.1"/><circle cx="633.17" cy="352.20" r="4.95" fill="#001023" stroke="#e3b72e" stroke-width="2.1"/><rect x="573.17" y="349.80" width="2" height="1.6" fill="#c0c8d8" opacity="0.4"/><rect x="572.77" y="353.10" width="3" height="0.9" fill="#8090b0" opacity="0.25"/><rect x="632.17" y="349.80" width="2" height="1.6" fill="#c0c8d8" opacity="0.4"/><rect x="631.77" y="353.10" width="3" height="0.9" fill="#8090b0" opacity="0.25"/><rect x="602.47" y="337.80" width="2" height="0.9" fill="#c0c8d8" opacity="0.35"/><rect x="603.67" y="341.30" width="1.3" height="1.3" fill="#a0b0c8" opacity="0.3"/><circle cx="603.47" cy="375.40" r="15.3" fill="#1cc3d1"/><circle cx="574.17" cy="405.10" r="8.10" fill="#4d7fc4"/><circle cx="574.17" cy="405.10" r="5.95" fill="#001023" stroke="#e3b72e" stroke-width="2.2"/><circle cx="633.17" cy="405.10" r="8.10" fill="#4d7fc4"/><circle cx="633.17" cy="405.10" r="5.95" fill="#001023" stroke="#e3b72e" stroke-width="2.2"/><circle cx="754.15" cy="316.30" r="5.10" fill="#4d7fc4"/><circle cx="754.15" cy="316.30" r="3.15" fill="#001023" stroke="#e3b72e" stroke-width="2.5"/><rect x="753.55" y="314.70" width="1.2" height="1.4" fill="#c8d0e0" opacity="0.5"/><rect x="704.40" y="311.45" width="9.7" height="9.7" fill="#5288d2"/><circle cx="709.25" cy="316.30" r="3.10" fill="#001023" stroke="#e3b72e" stroke-width="2.3"/><rect x="708.65" y="314.70" width="1.2" height="1.4" fill="#c8d0e0" opacity="0.5"/><circle cx="709.25" cy="311.30" r="0.75" fill="#ee22ee"/><circle cx="709.25" cy="321.30" r="0.75" fill="#ee22ee"/><circle cx="704.25" cy="316.30" r="0.75" fill="#ee22ee"/><circle cx="714.25" cy="316.30" r="0.75" fill="#ee22ee"/><circle cx="724.45" cy="340.10" r="5.00" fill="#001023" stroke="#e3b72e" stroke-width="2.0"/><circle cx="695.15" cy="352.20" r="4.95" fill="#001023" stroke="#e3b72e" stroke-width="2.1"/><circle cx="754.15" cy="352.20" r="4.95" fill="#001023" stroke="#e3b72e" stroke-width="2.1"/><rect x="694.15" y="349.80" width="2" height="1.6" fill="#c0c8d8" opacity="0.4"/><rect x="693.75" y="353.10" width="3" height="0.9" fill="#8090b0" opacity="0.25"/><rect x="753.15" y="349.80" width="2" height="1.6" fill="#c0c8d8" opacity="0.4"/><rect x="752.75" y="353.10" width="3" height="0.9" fill="#8090b0" opacity="0.25"/><rect x="723.45" y="337.80" width="2" height="0.9" fill="#c0c8d8" opacity="0.35"/><rect x="724.65" y="341.30" width="1.3" height="1.3" fill="#a0b0c8" opacity="0.3"/><circle cx="724.45" cy="375.40" r="15.3" fill="#1cc3d1"/><circle cx="695.15" cy="405.10" r="8.10" fill="#4d7fc4"/><circle cx="695.15" cy="405.10" r="5.95" fill="#001023" stroke="#e3b72e" stroke-width="2.2"/><circle cx="754.15" cy="405.10" r="8.10" fill="#4d7fc4"/><circle cx="754.15" cy="405.10" r="5.95" fill="#001023" stroke="#e3b72e" stroke-width="2.2"/><polyline points="90.15,439.20 90.15,473.20" fill="none" stroke="#4d7fc4" stroke-width="2.1" stroke-linejoin="round" stroke-linecap="round"/><line x1="90.25" y1="472.50" x2="149.25" y2="472.50" stroke="#5288d2" stroke-width="1.1"/><line x1="90.25" y1="474.50" x2="149.25" y2="474.50" stroke="#5288d2" stroke-width="1.1"/><polyline points="211.13,439.20 211.13,473.20" fill="none" stroke="#4d7fc4" stroke-width="2.1" stroke-linejoin="round" stroke-linecap="round"/><line x1="211.23" y1="472.50" x2="270.23" y2="472.50" stroke="#5288d2" stroke-width="1.1"/><line x1="211.23" y1="474.50" x2="270.23" y2="474.50" stroke="#5288d2" stroke-width="1.1"/><polyline points="332.11,439.20 332.11,473.20" fill="none" stroke="#4d7fc4" stroke-width="2.1" stroke-linejoin="round" stroke-linecap="round"/><line x1="332.21" y1="472.50" x2="391.21" y2="472.50" stroke="#5288d2" stroke-width="1.1"/><line x1="332.21" y1="474.50" x2="391.21" y2="474.50" stroke="#5288d2" stroke-width="1.1"/><polyline points="512.19,439.20 512.19,473.20" fill="none" stroke="#4d7fc4" stroke-width="2.1" stroke-linejoin="round" stroke-linecap="round"/><line x1="453.19" y1="472.50" x2="512.19" y2="472.50" stroke="#5288d2" stroke-width="1.1"/><line x1="453.19" y1="474.50" x2="512.19" y2="474.50" stroke="#5288d2" stroke-width="1.1"/><polyline points="633.17,439.20 633.17,473.20" fill="none" stroke="#4d7fc4" stroke-width="2.1" stroke-linejoin="round" stroke-linecap="round"/><line x1="574.17" y1="472.50" x2="633.17" y2="472.50" stroke="#5288d2" stroke-width="1.1"/><line x1="574.17" y1="474.50" x2="633.17" y2="474.50" stroke="#5288d2" stroke-width="1.1"/><polyline points="754.15,439.20 754.15,473.20" fill="none" stroke="#4d7fc4" stroke-width="2.1" stroke-linejoin="round" stroke-linecap="round"/><line x1="695.15" y1="472.50" x2="754.15" y2="472.50" stroke="#5288d2" stroke-width="1.1"/><line x1="695.15" y1="474.50" x2="754.15" y2="474.50" stroke="#5288d2" stroke-width="1.1"/><polyline points="135.15,439.20 141.15,432.80 250.13,432.80 256.13,439.20 262.13,432.80 371.11,432.80 377.11,439.20" fill="none" stroke="#4d7fc4" stroke-width="2.1" stroke-linejoin="round" stroke-linecap="round"/><polyline points="377.11,440.00 467.29,440.00" fill="none" stroke="#4d7fc4" stroke-width="2.1" stroke-linejoin="round" stroke-linecap="round"/><polyline points="467.29,439.20 473.29,432.80 582.27,432.80 588.27,439.20 594.27,432.80 703.25,432.80 709.25,439.20" fill="none" stroke="#4d7fc4" stroke-width="2.1" stroke-linejoin="round" stroke-linecap="round"/><circle cx="90.15" cy="439.20" r="5.10" fill="#4d7fc4"/><circle cx="90.15" cy="439.20" r="3.15" fill="#001023" stroke="#e3b72e" stroke-width="2.5"/><rect x="89.55" y="437.60" width="1.2" height="1.4" fill="#c8d0e0" opacity="0.5"/><rect x="130.30" y="434.35" width="9.7" height="9.7" fill="#5288d2"/><circle cx="135.15" cy="439.20" r="3.10" fill="#001023" stroke="#e3b72e" stroke-width="2.3"/><rect x="134.55" y="437.60" width="1.2" height="1.4" fill="#c8d0e0" opacity="0.5"/><circle cx="135.15" cy="434.20" r="0.75" fill="#ee22ee"/><circle cx="135.15" cy="444.20" r="0.75" fill="#ee22ee"/><circle cx="130.15" cy="439.20" r="0.75" fill="#ee22ee"/><circle cx="140.15" cy="439.20" r="0.75" fill="#ee22ee"/><circle cx="119.55" cy="461.10" r="5.00" fill="#001023" stroke="#e3b72e" stroke-width="2.0"/><circle cx="90.25" cy="473.20" r="4.95" fill="#001023" stroke="#e3b72e" stroke-width="2.1"/><circle cx="149.25" cy="473.20" r="4.95" fill="#001023" stroke="#e3b72e" stroke-width="2.1"/><rect x="89.25" y="470.80" width="2" height="1.6" fill="#c0c8d8" opacity="0.4"/><rect x="88.85" y="474.10" width="3" height="0.9" fill="#8090b0" opacity="0.25"/><rect x="148.25" y="470.80" width="2" height="1.6" fill="#c0c8d8" opacity="0.4"/><rect x="147.85" y="474.10" width="3" height="0.9" fill="#8090b0" opacity="0.25"/><rect x="118.55" y="458.80" width="2" height="0.9" fill="#c0c8d8" opacity="0.35"/><rect x="119.75" y="462.30" width="1.3" height="1.3" fill="#a0b0c8" opacity="0.3"/><circle cx="119.55" cy="496.30" r="15.3" fill="#1cc3d1"/><circle cx="90.25" cy="526.10" r="8.10" fill="#4d7fc4"/><circle cx="90.25" cy="526.10" r="5.95" fill="#001023" stroke="#e3b72e" stroke-width="2.2"/><circle cx="149.25" cy="526.10" r="8.10" fill="#4d7fc4"/><circle cx="149.25" cy="526.10" r="5.95" fill="#001023" stroke="#e3b72e" stroke-width="2.2"/><circle cx="211.13" cy="439.20" r="5.10" fill="#4d7fc4"/><circle cx="211.13" cy="439.20" r="3.15" fill="#001023" stroke="#e3b72e" stroke-width="2.5"/><rect x="210.53" y="437.60" width="1.2" height="1.4" fill="#c8d0e0" opacity="0.5"/><rect x="251.28" y="434.35" width="9.7" height="9.7" fill="#5288d2"/><circle cx="256.13" cy="439.20" r="3.10" fill="#001023" stroke="#e3b72e" stroke-width="2.3"/><rect x="255.53" y="437.60" width="1.2" height="1.4" fill="#c8d0e0" opacity="0.5"/><circle cx="256.13" cy="434.20" r="0.75" fill="#ee22ee"/><circle cx="256.13" cy="444.20" r="0.75" fill="#ee22ee"/><circle cx="251.13" cy="439.20" r="0.75" fill="#ee22ee"/><circle cx="261.13" cy="439.20" r="0.75" fill="#ee22ee"/><circle cx="240.53" cy="461.10" r="5.00" fill="#001023" stroke="#e3b72e" stroke-width="2.0"/><circle cx="211.23" cy="473.20" r="4.95" fill="#001023" stroke="#e3b72e" stroke-width="2.1"/><circle cx="270.23" cy="473.20" r="4.95" fill="#001023" stroke="#e3b72e" stroke-width="2.1"/><rect x="210.23" y="470.80" width="2" height="1.6" fill="#c0c8d8" opacity="0.4"/><rect x="209.83" y="474.10" width="3" height="0.9" fill="#8090b0" opacity="0.25"/><rect x="269.23" y="470.80" width="2" height="1.6" fill="#c0c8d8" opacity="0.4"/><rect x="268.83" y="474.10" width="3" height="0.9" fill="#8090b0" opacity="0.25"/><rect x="239.53" y="458.80" width="2" height="0.9" fill="#c0c8d8" opacity="0.35"/><rect x="240.73" y="462.30" width="1.3" height="1.3" fill="#a0b0c8" opacity="0.3"/><circle cx="240.53" cy="496.30" r="15.3" fill="#1cc3d1"/><circle cx="211.23" cy="526.10" r="8.10" fill="#4d7fc4"/><circle cx="211.23" cy="526.10" r="5.95" fill="#001023" stroke="#e3b72e" stroke-width="2.2"/><circle cx="270.23" cy="526.10" r="8.10" fill="#4d7fc4"/><circle cx="270.23" cy="526.10" r="5.95" fill="#001023" stroke="#e3b72e" stroke-width="2.2"/><circle cx="332.11" cy="439.20" r="5.10" fill="#4d7fc4"/><circle cx="332.11" cy="439.20" r="3.15" fill="#001023" stroke="#e3b72e" stroke-width="2.5"/><rect x="331.51" y="437.60" width="1.2" height="1.4" fill="#c8d0e0" opacity="0.5"/><rect x="372.26" y="434.35" width="9.7" height="9.7" fill="#5288d2"/><circle cx="377.11" cy="439.20" r="3.10" fill="#001023" stroke="#e3b72e" stroke-width="2.3"/><rect x="376.51" y="437.60" width="1.2" height="1.4" fill="#c8d0e0" opacity="0.5"/><circle cx="377.11" cy="434.20" r="0.75" fill="#ee22ee"/><circle cx="377.11" cy="444.20" r="0.75" fill="#ee22ee"/><circle cx="372.11" cy="439.20" r="0.75" fill="#ee22ee"/><circle cx="382.11" cy="439.20" r="0.75" fill="#ee22ee"/><circle cx="361.51" cy="461.10" r="5.00" fill="#001023" stroke="#e3b72e" stroke-width="2.0"/><circle cx="332.21" cy="473.20" r="4.95" fill="#001023" stroke="#e3b72e" stroke-width="2.1"/><circle cx="391.21" cy="473.20" r="4.95" fill="#001023" stroke="#e3b72e" stroke-width="2.1"/><rect x="331.21" y="470.80" width="2" height="1.6" fill="#c0c8d8" opacity="0.4"/><rect x="330.81" y="474.10" width="3" height="0.9" fill="#8090b0" opacity="0.25"/><rect x="390.21" y="470.80" width="2" height="1.6" fill="#c0c8d8" opacity="0.4"/><rect x="389.81" y="474.10" width="3" height="0.9" fill="#8090b0" opacity="0.25"/><rect x="360.51" y="458.80" width="2" height="0.9" fill="#c0c8d8" opacity="0.35"/><rect x="361.71" y="462.30" width="1.3" height="1.3" fill="#a0b0c8" opacity="0.3"/><circle cx="361.51" cy="496.30" r="15.3" fill="#1cc3d1"/><circle cx="332.21" cy="526.10" r="8.10" fill="#4d7fc4"/><circle cx="332.21" cy="526.10" r="5.95" fill="#001023" stroke="#e3b72e" stroke-width="2.2"/><circle cx="391.21" cy="526.10" r="8.10" fill="#4d7fc4"/><circle cx="391.21" cy="526.10" r="5.95" fill="#001023" stroke="#e3b72e" stroke-width="2.2"/><circle cx="512.19" cy="439.20" r="5.10" fill="#4d7fc4"/><circle cx="512.19" cy="439.20" r="3.15" fill="#001023" stroke="#e3b72e" stroke-width="2.5"/><rect x="511.59" y="437.60" width="1.2" height="1.4" fill="#c8d0e0" opacity="0.5"/><rect x="462.44" y="434.35" width="9.7" height="9.7" fill="#5288d2"/><circle cx="467.29" cy="439.20" r="3.10" fill="#001023" stroke="#e3b72e" stroke-width="2.3"/><rect x="466.69" y="437.60" width="1.2" height="1.4" fill="#c8d0e0" opacity="0.5"/><circle cx="467.29" cy="434.20" r="0.75" fill="#ee22ee"/><circle cx="467.29" cy="444.20" r="0.75" fill="#ee22ee"/><circle cx="462.29" cy="439.20" r="0.75" fill="#ee22ee"/><circle cx="472.29" cy="439.20" r="0.75" fill="#ee22ee"/><circle cx="482.49" cy="461.10" r="5.00" fill="#001023" stroke="#e3b72e" stroke-width="2.0"/><circle cx="453.19" cy="473.20" r="4.95" fill="#001023" stroke="#e3b72e" stroke-width="2.1"/><circle cx="512.19" cy="473.20" r="4.95" fill="#001023" stroke="#e3b72e" stroke-width="2.1"/><rect x="452.19" y="470.80" width="2" height="1.6" fill="#c0c8d8" opacity="0.4"/><rect x="451.79" y="474.10" width="3" height="0.9" fill="#8090b0" opacity="0.25"/><rect x="511.19" y="470.80" width="2" height="1.6" fill="#c0c8d8" opacity="0.4"/><rect x="510.79" y="474.10" width="3" height="0.9" fill="#8090b0" opacity="0.25"/><rect x="481.49" y="458.80" width="2" height="0.9" fill="#c0c8d8" opacity="0.35"/><rect x="482.69" y="462.30" width="1.3" height="1.3" fill="#a0b0c8" opacity="0.3"/><circle cx="482.49" cy="496.30" r="15.3" fill="#1cc3d1"/><circle cx="453.19" cy="526.10" r="8.10" fill="#4d7fc4"/><circle cx="453.19" cy="526.10" r="5.95" fill="#001023" stroke="#e3b72e" stroke-width="2.2"/><circle cx="512.19" cy="526.10" r="8.10" fill="#4d7fc4"/><circle cx="512.19" cy="526.10" r="5.95" fill="#001023" stroke="#e3b72e" stroke-width="2.2"/><circle cx="633.17" cy="439.20" r="5.10" fill="#4d7fc4"/><circle cx="633.17" cy="439.20" r="3.15" fill="#001023" stroke="#e3b72e" stroke-width="2.5"/><rect x="632.57" y="437.60" width="1.2" height="1.4" fill="#c8d0e0" opacity="0.5"/><rect x="583.42" y="434.35" width="9.7" height="9.7" fill="#5288d2"/><circle cx="588.27" cy="439.20" r="3.10" fill="#001023" stroke="#e3b72e" stroke-width="2.3"/><rect x="587.67" y="437.60" width="1.2" height="1.4" fill="#c8d0e0" opacity="0.5"/><circle cx="588.27" cy="434.20" r="0.75" fill="#ee22ee"/><circle cx="588.27" cy="444.20" r="0.75" fill="#ee22ee"/><circle cx="583.27" cy="439.20" r="0.75" fill="#ee22ee"/><circle cx="593.27" cy="439.20" r="0.75" fill="#ee22ee"/><circle cx="603.47" cy="461.10" r="5.00" fill="#001023" stroke="#e3b72e" stroke-width="2.0"/><circle cx="574.17" cy="473.20" r="4.95" fill="#001023" stroke="#e3b72e" stroke-width="2.1"/><circle cx="633.17" cy="473.20" r="4.95" fill="#001023" stroke="#e3b72e" stroke-width="2.1"/><rect x="573.17" y="470.80" width="2" height="1.6" fill="#c0c8d8" opacity="0.4"/><rect x="572.77" y="474.10" width="3" height="0.9" fill="#8090b0" opacity="0.25"/><rect x="632.17" y="470.80" width="2" height="1.6" fill="#c0c8d8" opacity="0.4"/><rect x="631.77" y="474.10" width="3" height="0.9" fill="#8090b0" opacity="0.25"/><rect x="602.47" y="458.80" width="2" height="0.9" fill="#c0c8d8" opacity="0.35"/><rect x="603.67" y="462.30" width="1.3" height="1.3" fill="#a0b0c8" opacity="0.3"/><circle cx="603.47" cy="496.30" r="15.3" fill="#1cc3d1"/><circle cx="574.17" cy="526.10" r="8.10" fill="#4d7fc4"/><circle cx="574.17" cy="526.10" r="5.95" fill="#001023" stroke="#e3b72e" stroke-width="2.2"/><circle cx="633.17" cy="526.10" r="8.10" fill="#4d7fc4"/><circle cx="633.17" cy="526.10" r="5.95" fill="#001023" stroke="#e3b72e" stroke-width="2.2"/><circle cx="754.15" cy="439.20" r="5.10" fill="#4d7fc4"/><circle cx="754.15" cy="439.20" r="3.15" fill="#001023" stroke="#e3b72e" stroke-width="2.5"/><rect x="753.55" y="437.60" width="1.2" height="1.4" fill="#c8d0e0" opacity="0.5"/><rect x="704.40" y="434.35" width="9.7" height="9.7" fill="#5288d2"/><circle cx="709.25" cy="439.20" r="3.10" fill="#001023" stroke="#e3b72e" stroke-width="2.3"/><rect x="708.65" y="437.60" width="1.2" height="1.4" fill="#c8d0e0" opacity="0.5"/><circle cx="709.25" cy="434.20" r="0.75" fill="#ee22ee"/><circle cx="709.25" cy="444.20" r="0.75" fill="#ee22ee"/><circle cx="704.25" cy="439.20" r="0.75" fill="#ee22ee"/><circle cx="714.25" cy="439.20" r="0.75" fill="#ee22ee"/><circle cx="724.45" cy="461.10" r="5.00" fill="#001023" stroke="#e3b72e" stroke-width="2.0"/><circle cx="695.15" cy="473.20" r="4.95" fill="#001023" stroke="#e3b72e" stroke-width="2.1"/><circle cx="754.15" cy="473.20" r="4.95" fill="#001023" stroke="#e3b72e" stroke-width="2.1"/><rect x="694.15" y="470.80" width="2" height="1.6" fill="#c0c8d8" opacity="0.4"/><rect x="693.75" y="474.10" width="3" height="0.9" fill="#8090b0" opacity="0.25"/><rect x="753.15" y="470.80" width="2" height="1.6" fill="#c0c8d8" opacity="0.4"/><rect x="752.75" y="474.10" width="3" height="0.9" fill="#8090b0" opacity="0.25"/><rect x="723.45" y="458.80" width="2" height="0.9" fill="#c0c8d8" opacity="0.35"/><rect x="724.65" y="462.30" width="1.3" height="1.3" fill="#a0b0c8" opacity="0.3"/><circle cx="724.45" cy="496.30" r="15.3" fill="#1cc3d1"/><circle cx="695.15" cy="526.10" r="8.10" fill="#4d7fc4"/><circle cx="695.15" cy="526.10" r="5.95" fill="#001023" stroke="#e3b72e" stroke-width="2.2"/><circle cx="754.15" cy="526.10" r="8.10" fill="#4d7fc4"/><circle cx="754.15" cy="526.10" r="5.95" fill="#001023" stroke="#e3b72e" stroke-width="2.2"/><polyline points="90.15,560.10 90.15,594.10" fill="none" stroke="#4d7fc4" stroke-width="2.1" stroke-linejoin="round" stroke-linecap="round"/><line x1="90.25" y1="593.50" x2="149.25" y2="593.50" stroke="#5288d2" stroke-width="1.1"/><line x1="90.25" y1="595.50" x2="149.25" y2="595.50" stroke="#5288d2" stroke-width="1.1"/><polyline points="211.13,560.10 211.13,594.10" fill="none" stroke="#4d7fc4" stroke-width="2.1" stroke-linejoin="round" stroke-linecap="round"/><line x1="211.23" y1="593.50" x2="270.23" y2="593.50" stroke="#5288d2" stroke-width="1.1"/><line x1="211.23" y1="595.50" x2="270.23" y2="595.50" stroke="#5288d2" stroke-width="1.1"/><polyline points="332.11,560.10 332.11,594.10" fill="none" stroke="#4d7fc4" stroke-width="2.1" stroke-linejoin="round" stroke-linecap="round"/><line x1="332.21" y1="593.50" x2="391.21" y2="593.50" stroke="#5288d2" stroke-width="1.1"/><line x1="332.21" y1="595.50" x2="391.21" y2="595.50" stroke="#5288d2" stroke-width="1.1"/><polyline points="512.19,560.10 512.19,594.10" fill="none" stroke="#4d7fc4" stroke-width="2.1" stroke-linejoin="round" stroke-linecap="round"/><line x1="453.19" y1="593.50" x2="512.19" y2="593.50" stroke="#5288d2" stroke-width="1.1"/><line x1="453.19" y1="595.50" x2="512.19" y2="595.50" stroke="#5288d2" stroke-width="1.1"/><polyline points="633.17,560.10 633.17,594.10" fill="none" stroke="#4d7fc4" stroke-width="2.1" stroke-linejoin="round" stroke-linecap="round"/><line x1="574.17" y1="593.50" x2="633.17" y2="593.50" stroke="#5288d2" stroke-width="1.1"/><line x1="574.17" y1="595.50" x2="633.17" y2="595.50" stroke="#5288d2" stroke-width="1.1"/><polyline points="754.15,560.10 754.15,594.10" fill="none" stroke="#4d7fc4" stroke-width="2.1" stroke-linejoin="round" stroke-linecap="round"/><line x1="695.15" y1="593.50" x2="754.15" y2="593.50" stroke="#5288d2" stroke-width="1.1"/><line x1="695.15" y1="595.50" x2="754.15" y2="595.50" stroke="#5288d2" stroke-width="1.1"/><polyline points="135.15,560.10 141.15,553.90 250.13,553.90 256.13,560.10 262.13,553.90 371.11,553.90 377.11,560.10" fill="none" stroke="#4d7fc4" stroke-width="2.1" stroke-linejoin="round" stroke-linecap="round"/><polyline points="377.11,560.90 469.29,560.90" fill="none" stroke="#4d7fc4" stroke-width="2.1" stroke-linejoin="round" stroke-linecap="round"/><polyline points="469.29,560.10 475.29,553.90 582.27,553.90 588.27,560.10 594.27,553.90 703.25,553.90 709.25,560.10" fill="none" stroke="#4d7fc4" stroke-width="2.1" stroke-linejoin="round" stroke-linecap="round"/><circle cx="90.15" cy="560.10" r="5.10" fill="#4d7fc4"/><circle cx="90.15" cy="560.10" r="3.15" fill="#001023" stroke="#e3b72e" stroke-width="2.5"/><rect x="89.55" y="558.50" width="1.2" height="1.4" fill="#c8d0e0" opacity="0.5"/><rect x="130.30" y="555.25" width="9.7" height="9.7" fill="#5288d2"/><circle cx="135.15" cy="560.10" r="3.10" fill="#001023" stroke="#e3b72e" stroke-width="2.3"/><rect x="134.55" y="558.50" width="1.2" height="1.4" fill="#c8d0e0" opacity="0.5"/><circle cx="135.15" cy="555.10" r="0.75" fill="#ee22ee"/><circle cx="135.15" cy="565.10" r="0.75" fill="#ee22ee"/><circle cx="130.15" cy="560.10" r="0.75" fill="#ee22ee"/><circle cx="140.15" cy="560.10" r="0.75" fill="#ee22ee"/><circle cx="119.55" cy="582.30" r="5.00" fill="#001023" stroke="#e3b72e" stroke-width="2.0"/><circle cx="90.25" cy="594.10" r="4.95" fill="#001023" stroke="#e3b72e" stroke-width="2.1"/><circle cx="149.25" cy="594.10" r="4.95" fill="#001023" stroke="#e3b72e" stroke-width="2.1"/><rect x="89.25" y="591.70" width="2" height="1.6" fill="#c0c8d8" opacity="0.4"/><rect x="88.85" y="595.00" width="3" height="0.9" fill="#8090b0" opacity="0.25"/><rect x="148.25" y="591.70" width="2" height="1.6" fill="#c0c8d8" opacity="0.4"/><rect x="147.85" y="595.00" width="3" height="0.9" fill="#8090b0" opacity="0.25"/><rect x="118.55" y="580.00" width="2" height="0.9" fill="#c0c8d8" opacity="0.35"/><rect x="119.75" y="583.50" width="1.3" height="1.3" fill="#a0b0c8" opacity="0.3"/><circle cx="119.55" cy="617.40" r="15.3" fill="#1cc3d1"/><circle cx="90.25" cy="647.00" r="8.10" fill="#4d7fc4"/><circle cx="90.25" cy="647.00" r="5.95" fill="#001023" stroke="#e3b72e" stroke-width="2.2"/><circle cx="149.25" cy="647.00" r="8.10" fill="#4d7fc4"/><circle cx="149.25" cy="647.00" r="5.95" fill="#001023" stroke="#e3b72e" stroke-width="2.2"/><circle cx="211.13" cy="560.10" r="5.10" fill="#4d7fc4"/><circle cx="211.13" cy="560.10" r="3.15" fill="#001023" stroke="#e3b72e" stroke-width="2.5"/><rect x="210.53" y="558.50" width="1.2" height="1.4" fill="#c8d0e0" opacity="0.5"/><rect x="251.28" y="555.25" width="9.7" height="9.7" fill="#5288d2"/><circle cx="256.13" cy="560.10" r="3.10" fill="#001023" stroke="#e3b72e" stroke-width="2.3"/><rect x="255.53" y="558.50" width="1.2" height="1.4" fill="#c8d0e0" opacity="0.5"/><circle cx="256.13" cy="555.10" r="0.75" fill="#ee22ee"/><circle cx="256.13" cy="565.10" r="0.75" fill="#ee22ee"/><circle cx="251.13" cy="560.10" r="0.75" fill="#ee22ee"/><circle cx="261.13" cy="560.10" r="0.75" fill="#ee22ee"/><circle cx="240.53" cy="582.30" r="5.00" fill="#001023" stroke="#e3b72e" stroke-width="2.0"/><circle cx="211.23" cy="594.10" r="4.95" fill="#001023" stroke="#e3b72e" stroke-width="2.1"/><circle cx="270.23" cy="594.10" r="4.95" fill="#001023" stroke="#e3b72e" stroke-width="2.1"/><rect x="210.23" y="591.70" width="2" height="1.6" fill="#c0c8d8" opacity="0.4"/><rect x="209.83" y="595.00" width="3" height="0.9" fill="#8090b0" opacity="0.25"/><rect x="269.23" y="591.70" width="2" height="1.6" fill="#c0c8d8" opacity="0.4"/><rect x="268.83" y="595.00" width="3" height="0.9" fill="#8090b0" opacity="0.25"/><rect x="239.53" y="580.00" width="2" height="0.9" fill="#c0c8d8" opacity="0.35"/><rect x="240.73" y="583.50" width="1.3" height="1.3" fill="#a0b0c8" opacity="0.3"/><circle cx="240.53" cy="617.40" r="15.3" fill="#1cc3d1"/><circle cx="211.23" cy="647.00" r="8.10" fill="#4d7fc4"/><circle cx="211.23" cy="647.00" r="5.95" fill="#001023" stroke="#e3b72e" stroke-width="2.2"/><circle cx="270.23" cy="647.00" r="8.10" fill="#4d7fc4"/><circle cx="270.23" cy="647.00" r="5.95" fill="#001023" stroke="#e3b72e" stroke-width="2.2"/><circle cx="332.11" cy="560.10" r="5.10" fill="#4d7fc4"/><circle cx="332.11" cy="560.10" r="3.15" fill="#001023" stroke="#e3b72e" stroke-width="2.5"/><rect x="331.51" y="558.50" width="1.2" height="1.4" fill="#c8d0e0" opacity="0.5"/><rect x="372.26" y="555.25" width="9.7" height="9.7" fill="#5288d2"/><circle cx="377.11" cy="560.10" r="3.10" fill="#001023" stroke="#e3b72e" stroke-width="2.3"/><rect x="376.51" y="558.50" width="1.2" height="1.4" fill="#c8d0e0" opacity="0.5"/><circle cx="377.11" cy="555.10" r="0.75" fill="#ee22ee"/><circle cx="377.11" cy="565.10" r="0.75" fill="#ee22ee"/><circle cx="372.11" cy="560.10" r="0.75" fill="#ee22ee"/><circle cx="382.11" cy="560.10" r="0.75" fill="#ee22ee"/><circle cx="361.51" cy="582.30" r="5.00" fill="#001023" stroke="#e3b72e" stroke-width="2.0"/><circle cx="332.21" cy="594.10" r="4.95" fill="#001023" stroke="#e3b72e" stroke-width="2.1"/><circle cx="391.21" cy="594.10" r="4.95" fill="#001023" stroke="#e3b72e" stroke-width="2.1"/><rect x="331.21" y="591.70" width="2" height="1.6" fill="#c0c8d8" opacity="0.4"/><rect x="330.81" y="595.00" width="3" height="0.9" fill="#8090b0" opacity="0.25"/><rect x="390.21" y="591.70" width="2" height="1.6" fill="#c0c8d8" opacity="0.4"/><rect x="389.81" y="595.00" width="3" height="0.9" fill="#8090b0" opacity="0.25"/><rect x="360.51" y="580.00" width="2" height="0.9" fill="#c0c8d8" opacity="0.35"/><rect x="361.71" y="583.50" width="1.3" height="1.3" fill="#a0b0c8" opacity="0.3"/><circle cx="361.51" cy="617.40" r="15.3" fill="#1cc3d1"/><circle cx="332.21" cy="647.00" r="8.10" fill="#4d7fc4"/><circle cx="332.21" cy="647.00" r="5.95" fill="#001023" stroke="#e3b72e" stroke-width="2.2"/><circle cx="391.21" cy="647.00" r="8.10" fill="#4d7fc4"/><circle cx="391.21" cy="647.00" r="5.95" fill="#001023" stroke="#e3b72e" stroke-width="2.2"/><circle cx="514.19" cy="560.10" r="5.10" fill="#4d7fc4"/><circle cx="514.19" cy="560.10" r="3.15" fill="#001023" stroke="#e3b72e" stroke-width="2.5"/><rect x="513.59" y="558.50" width="1.2" height="1.4" fill="#c8d0e0" opacity="0.5"/><rect x="464.44" y="555.25" width="9.7" height="9.7" fill="#5288d2"/><circle cx="469.29" cy="560.10" r="3.10" fill="#001023" stroke="#e3b72e" stroke-width="2.3"/><rect x="468.69" y="558.50" width="1.2" height="1.4" fill="#c8d0e0" opacity="0.5"/><circle cx="469.29" cy="555.10" r="0.75" fill="#ee22ee"/><circle cx="469.29" cy="565.10" r="0.75" fill="#ee22ee"/><circle cx="464.29" cy="560.10" r="0.75" fill="#ee22ee"/><circle cx="474.29" cy="560.10" r="0.75" fill="#ee22ee"/><circle cx="482.49" cy="582.30" r="5.00" fill="#001023" stroke="#e3b72e" stroke-width="2.0"/><circle cx="453.19" cy="594.10" r="4.95" fill="#001023" stroke="#e3b72e" stroke-width="2.1"/><circle cx="512.19" cy="594.10" r="4.95" fill="#001023" stroke="#e3b72e" stroke-width="2.1"/><rect x="452.19" y="591.70" width="2" height="1.6" fill="#c0c8d8" opacity="0.4"/><rect x="451.79" y="595.00" width="3" height="0.9" fill="#8090b0" opacity="0.25"/><rect x="511.19" y="591.70" width="2" height="1.6" fill="#c0c8d8" opacity="0.4"/><rect x="510.79" y="595.00" width="3" height="0.9" fill="#8090b0" opacity="0.25"/><rect x="481.49" y="580.00" width="2" height="0.9" fill="#c0c8d8" opacity="0.35"/><rect x="482.69" y="583.50" width="1.3" height="1.3" fill="#a0b0c8" opacity="0.3"/><circle cx="482.49" cy="617.40" r="15.3" fill="#1cc3d1"/><circle cx="453.19" cy="647.00" r="8.10" fill="#4d7fc4"/><circle cx="453.19" cy="647.00" r="5.95" fill="#001023" stroke="#e3b72e" stroke-width="2.2"/><circle cx="512.19" cy="647.00" r="8.10" fill="#4d7fc4"/><circle cx="512.19" cy="647.00" r="5.95" fill="#001023" stroke="#e3b72e" stroke-width="2.2"/><circle cx="633.17" cy="560.10" r="5.10" fill="#4d7fc4"/><circle cx="633.17" cy="560.10" r="3.15" fill="#001023" stroke="#e3b72e" stroke-width="2.5"/><rect x="632.57" y="558.50" width="1.2" height="1.4" fill="#c8d0e0" opacity="0.5"/><rect x="583.42" y="555.25" width="9.7" height="9.7" fill="#5288d2"/><circle cx="588.27" cy="560.10" r="3.10" fill="#001023" stroke="#e3b72e" stroke-width="2.3"/><rect x="587.67" y="558.50" width="1.2" height="1.4" fill="#c8d0e0" opacity="0.5"/><circle cx="588.27" cy="555.10" r="0.75" fill="#ee22ee"/><circle cx="588.27" cy="565.10" r="0.75" fill="#ee22ee"/><circle cx="583.27" cy="560.10" r="0.75" fill="#ee22ee"/><circle cx="593.27" cy="560.10" r="0.75" fill="#ee22ee"/><circle cx="603.47" cy="582.30" r="5.00" fill="#001023" stroke="#e3b72e" stroke-width="2.0"/><circle cx="574.17" cy="594.10" r="4.95" fill="#001023" stroke="#e3b72e" stroke-width="2.1"/><circle cx="633.17" cy="594.10" r="4.95" fill="#001023" stroke="#e3b72e" stroke-width="2.1"/><rect x="573.17" y="591.70" width="2" height="1.6" fill="#c0c8d8" opacity="0.4"/><rect x="572.77" y="595.00" width="3" height="0.9" fill="#8090b0" opacity="0.25"/><rect x="632.17" y="591.70" width="2" height="1.6" fill="#c0c8d8" opacity="0.4"/><rect x="631.77" y="595.00" width="3" height="0.9" fill="#8090b0" opacity="0.25"/><rect x="602.47" y="580.00" width="2" height="0.9" fill="#c0c8d8" opacity="0.35"/><rect x="603.67" y="583.50" width="1.3" height="1.3" fill="#a0b0c8" opacity="0.3"/><circle cx="603.47" cy="617.40" r="15.3" fill="#1cc3d1"/><circle cx="574.17" cy="647.00" r="8.10" fill="#4d7fc4"/><circle cx="574.17" cy="647.00" r="5.95" fill="#001023" stroke="#e3b72e" stroke-width="2.2"/><circle cx="633.17" cy="647.00" r="8.10" fill="#4d7fc4"/><circle cx="633.17" cy="647.00" r="5.95" fill="#001023" stroke="#e3b72e" stroke-width="2.2"/><circle cx="754.15" cy="560.10" r="5.10" fill="#4d7fc4"/><circle cx="754.15" cy="560.10" r="3.15" fill="#001023" stroke="#e3b72e" stroke-width="2.5"/><rect x="753.55" y="558.50" width="1.2" height="1.4" fill="#c8d0e0" opacity="0.5"/><rect x="704.40" y="555.25" width="9.7" height="9.7" fill="#5288d2"/><circle cx="709.25" cy="560.10" r="3.10" fill="#001023" stroke="#e3b72e" stroke-width="2.3"/><rect x="708.65" y="558.50" width="1.2" height="1.4" fill="#c8d0e0" opacity="0.5"/><circle cx="709.25" cy="555.10" r="0.75" fill="#ee22ee"/><circle cx="709.25" cy="565.10" r="0.75" fill="#ee22ee"/><circle cx="704.25" cy="560.10" r="0.75" fill="#ee22ee"/><circle cx="714.25" cy="560.10" r="0.75" fill="#ee22ee"/><circle cx="724.45" cy="582.30" r="5.00" fill="#001023" stroke="#e3b72e" stroke-width="2.0"/><circle cx="695.15" cy="594.10" r="4.95" fill="#001023" stroke="#e3b72e" stroke-width="2.1"/><circle cx="754.15" cy="594.10" r="4.95" fill="#001023" stroke="#e3b72e" stroke-width="2.1"/><rect x="694.15" y="591.70" width="2" height="1.6" fill="#c0c8d8" opacity="0.4"/><rect x="693.75" y="595.00" width="3" height="0.9" fill="#8090b0" opacity="0.25"/><rect x="753.15" y="591.70" width="2" height="1.6" fill="#c0c8d8" opacity="0.4"/><rect x="752.75" y="595.00" width="3" height="0.9" fill="#8090b0" opacity="0.25"/><rect x="723.45" y="580.00" width="2" height="0.9" fill="#c0c8d8" opacity="0.35"/><rect x="724.65" y="583.50" width="1.3" height="1.3" fill="#a0b0c8" opacity="0.3"/><circle cx="724.45" cy="617.40" r="15.3" fill="#1cc3d1"/><circle cx="695.15" cy="647.00" r="8.10" fill="#4d7fc4"/><circle cx="695.15" cy="647.00" r="5.95" fill="#001023" stroke="#e3b72e" stroke-width="2.2"/><circle cx="754.15" cy="647.00" r="8.10" fill="#4d7fc4"/><circle cx="754.15" cy="647.00" r="5.95" fill="#001023" stroke="#e3b72e" stroke-width="2.2"/><polyline points="90.15,680.10 90.15,716.30" fill="none" stroke="#4d7fc4" stroke-width="2.1" stroke-linejoin="round" stroke-linecap="round"/><line x1="90.25" y1="715.50" x2="149.25" y2="715.50" stroke="#5288d2" stroke-width="1.1"/><line x1="90.25" y1="717.50" x2="149.25" y2="717.50" stroke="#5288d2" stroke-width="1.1"/><polyline points="211.13,680.10 211.13,716.30" fill="none" stroke="#4d7fc4" stroke-width="2.1" stroke-linejoin="round" stroke-linecap="round"/><line x1="211.23" y1="715.50" x2="270.23" y2="715.50" stroke="#5288d2" stroke-width="1.1"/><line x1="211.23" y1="717.50" x2="270.23" y2="717.50" stroke="#5288d2" stroke-width="1.1"/><polyline points="332.11,680.10 332.11,716.30" fill="none" stroke="#4d7fc4" stroke-width="2.1" stroke-linejoin="round" stroke-linecap="round"/><line x1="332.21" y1="715.50" x2="391.21" y2="715.50" stroke="#5288d2" stroke-width="1.1"/><line x1="332.21" y1="717.50" x2="391.21" y2="717.50" stroke="#5288d2" stroke-width="1.1"/><polyline points="512.19,680.10 512.19,716.30" fill="none" stroke="#4d7fc4" stroke-width="2.1" stroke-linejoin="round" stroke-linecap="round"/><line x1="453.19" y1="715.50" x2="512.19" y2="715.50" stroke="#5288d2" stroke-width="1.1"/><line x1="453.19" y1="717.50" x2="512.19" y2="717.50" stroke="#5288d2" stroke-width="1.1"/><polyline points="633.17,680.10 633.17,716.30" fill="none" stroke="#4d7fc4" stroke-width="2.1" stroke-linejoin="round" stroke-linecap="round"/><line x1="574.17" y1="715.50" x2="633.17" y2="715.50" stroke="#5288d2" stroke-width="1.1"/><line x1="574.17" y1="717.50" x2="633.17" y2="717.50" stroke="#5288d2" stroke-width="1.1"/><polyline points="754.15,680.10 754.15,716.30" fill="none" stroke="#4d7fc4" stroke-width="2.1" stroke-linejoin="round" stroke-linecap="round"/><line x1="695.15" y1="715.50" x2="754.15" y2="715.50" stroke="#5288d2" stroke-width="1.1"/><line x1="695.15" y1="717.50" x2="754.15" y2="717.50" stroke="#5288d2" stroke-width="1.1"/><polyline points="135.15,680.10 141.65,672.80 703.25,672.80 709.25,680.10" fill="none" stroke="#4d7fc4" stroke-width="2.1" stroke-linejoin="round" stroke-linecap="round"/><polyline points="256.13,680.10 260.13,672.80" fill="none" stroke="#4d7fc4" stroke-width="2.1" stroke-linejoin="round" stroke-linecap="round"/><polyline points="377.11,680.10 381.11,672.80" fill="none" stroke="#4d7fc4" stroke-width="2.1" stroke-linejoin="round" stroke-linecap="round"/><polyline points="469.29,680.10 465.29,672.80" fill="none" stroke="#4d7fc4" stroke-width="2.1" stroke-linejoin="round" stroke-linecap="round"/><polyline points="588.27,680.10 584.27,672.80" fill="none" stroke="#4d7fc4" stroke-width="2.1" stroke-linejoin="round" stroke-linecap="round"/><circle cx="90.15" cy="680.10" r="5.10" fill="#4d7fc4"/><circle cx="90.15" cy="680.10" r="3.15" fill="#001023" stroke="#e3b72e" stroke-width="2.5"/><rect x="89.55" y="678.50" width="1.2" height="1.4" fill="#c8d0e0" opacity="0.5"/><rect x="130.30" y="675.25" width="9.7" height="9.7" fill="#5288d2"/><circle cx="135.15" cy="680.10" r="3.10" fill="#001023" stroke="#e3b72e" stroke-width="2.3"/><rect x="134.55" y="678.50" width="1.2" height="1.4" fill="#c8d0e0" opacity="0.5"/><circle cx="135.15" cy="675.10" r="0.75" fill="#ee22ee"/><circle cx="135.15" cy="685.10" r="0.75" fill="#ee22ee"/><circle cx="130.15" cy="680.10" r="0.75" fill="#ee22ee"/><circle cx="140.15" cy="680.10" r="0.75" fill="#ee22ee"/><circle cx="119.55" cy="703.40" r="5.00" fill="#001023" stroke="#e3b72e" stroke-width="2.0"/><circle cx="90.25" cy="716.30" r="4.95" fill="#001023" stroke="#e3b72e" stroke-width="2.1"/><circle cx="149.25" cy="716.30" r="4.95" fill="#001023" stroke="#e3b72e" stroke-width="2.1"/><rect x="89.25" y="713.90" width="2" height="1.6" fill="#c0c8d8" opacity="0.4"/><rect x="88.85" y="717.20" width="3" height="0.9" fill="#8090b0" opacity="0.25"/><rect x="148.25" y="713.90" width="2" height="1.6" fill="#c0c8d8" opacity="0.4"/><rect x="147.85" y="717.20" width="3" height="0.9" fill="#8090b0" opacity="0.25"/><rect x="118.55" y="701.10" width="2" height="0.9" fill="#c0c8d8" opacity="0.35"/><rect x="119.75" y="704.60" width="1.3" height="1.3" fill="#a0b0c8" opacity="0.3"/><circle cx="119.55" cy="737.40" r="15.3" fill="#1cc3d1"/><circle cx="90.25" cy="768.10" r="8.10" fill="#4d7fc4"/><circle cx="90.25" cy="768.10" r="5.95" fill="#001023" stroke="#e3b72e" stroke-width="2.2"/><circle cx="149.25" cy="768.10" r="8.10" fill="#4d7fc4"/><circle cx="149.25" cy="768.10" r="5.95" fill="#001023" stroke="#e3b72e" stroke-width="2.2"/><circle cx="211.13" cy="680.10" r="5.10" fill="#4d7fc4"/><circle cx="211.13" cy="680.10" r="3.15" fill="#001023" stroke="#e3b72e" stroke-width="2.5"/><rect x="210.53" y="678.50" width="1.2" height="1.4" fill="#c8d0e0" opacity="0.5"/><rect x="251.28" y="675.25" width="9.7" height="9.7" fill="#5288d2"/><circle cx="256.13" cy="680.10" r="3.10" fill="#001023" stroke="#e3b72e" stroke-width="2.3"/><rect x="255.53" y="678.50" width="1.2" height="1.4" fill="#c8d0e0" opacity="0.5"/><circle cx="256.13" cy="675.10" r="0.75" fill="#ee22ee"/><circle cx="256.13" cy="685.10" r="0.75" fill="#ee22ee"/><circle cx="251.13" cy="680.10" r="0.75" fill="#ee22ee"/><circle cx="261.13" cy="680.10" r="0.75" fill="#ee22ee"/><circle cx="240.53" cy="703.40" r="5.00" fill="#001023" stroke="#e3b72e" stroke-width="2.0"/><circle cx="211.23" cy="716.30" r="4.95" fill="#001023" stroke="#e3b72e" stroke-width="2.1"/><circle cx="270.23" cy="716.30" r="4.95" fill="#001023" stroke="#e3b72e" stroke-width="2.1"/><rect x="210.23" y="713.90" width="2" height="1.6" fill="#c0c8d8" opacity="0.4"/><rect x="209.83" y="717.20" width="3" height="0.9" fill="#8090b0" opacity="0.25"/><rect x="269.23" y="713.90" width="2" height="1.6" fill="#c0c8d8" opacity="0.4"/><rect x="268.83" y="717.20" width="3" height="0.9" fill="#8090b0" opacity="0.25"/><rect x="239.53" y="701.10" width="2" height="0.9" fill="#c0c8d8" opacity="0.35"/><rect x="240.73" y="704.60" width="1.3" height="1.3" fill="#a0b0c8" opacity="0.3"/><circle cx="240.53" cy="737.40" r="15.3" fill="#1cc3d1"/><circle cx="211.23" cy="768.10" r="8.10" fill="#4d7fc4"/><circle cx="211.23" cy="768.10" r="5.95" fill="#001023" stroke="#e3b72e" stroke-width="2.2"/><circle cx="270.23" cy="768.10" r="8.10" fill="#4d7fc4"/><circle cx="270.23" cy="768.10" r="5.95" fill="#001023" stroke="#e3b72e" stroke-width="2.2"/><circle cx="332.11" cy="680.10" r="5.10" fill="#4d7fc4"/><circle cx="332.11" cy="680.10" r="3.15" fill="#001023" stroke="#e3b72e" stroke-width="2.5"/><rect x="331.51" y="678.50" width="1.2" height="1.4" fill="#c8d0e0" opacity="0.5"/><rect x="372.26" y="675.25" width="9.7" height="9.7" fill="#5288d2"/><circle cx="377.11" cy="680.10" r="3.10" fill="#001023" stroke="#e3b72e" stroke-width="2.3"/><rect x="376.51" y="678.50" width="1.2" height="1.4" fill="#c8d0e0" opacity="0.5"/><circle cx="377.11" cy="675.10" r="0.75" fill="#ee22ee"/><circle cx="377.11" cy="685.10" r="0.75" fill="#ee22ee"/><circle cx="372.11" cy="680.10" r="0.75" fill="#ee22ee"/><circle cx="382.11" cy="680.10" r="0.75" fill="#ee22ee"/><circle cx="361.51" cy="703.40" r="5.00" fill="#001023" stroke="#e3b72e" stroke-width="2.0"/><circle cx="332.21" cy="716.30" r="4.95" fill="#001023" stroke="#e3b72e" stroke-width="2.1"/><circle cx="391.21" cy="716.30" r="4.95" fill="#001023" stroke="#e3b72e" stroke-width="2.1"/><rect x="331.21" y="713.90" width="2" height="1.6" fill="#c0c8d8" opacity="0.4"/><rect x="330.81" y="717.20" width="3" height="0.9" fill="#8090b0" opacity="0.25"/><rect x="390.21" y="713.90" width="2" height="1.6" fill="#c0c8d8" opacity="0.4"/><rect x="389.81" y="717.20" width="3" height="0.9" fill="#8090b0" opacity="0.25"/><rect x="360.51" y="701.10" width="2" height="0.9" fill="#c0c8d8" opacity="0.35"/><rect x="361.71" y="704.60" width="1.3" height="1.3" fill="#a0b0c8" opacity="0.3"/><circle cx="361.51" cy="737.40" r="15.3" fill="#1cc3d1"/><circle cx="332.21" cy="768.10" r="8.10" fill="#4d7fc4"/><circle cx="332.21" cy="768.10" r="5.95" fill="#001023" stroke="#e3b72e" stroke-width="2.2"/><circle cx="391.21" cy="768.10" r="8.10" fill="#4d7fc4"/><circle cx="391.21" cy="768.10" r="5.95" fill="#001023" stroke="#e3b72e" stroke-width="2.2"/><circle cx="514.19" cy="680.10" r="5.10" fill="#4d7fc4"/><circle cx="514.19" cy="680.10" r="3.15" fill="#001023" stroke="#e3b72e" stroke-width="2.5"/><rect x="513.59" y="678.50" width="1.2" height="1.4" fill="#c8d0e0" opacity="0.5"/><rect x="464.44" y="675.25" width="9.7" height="9.7" fill="#5288d2"/><circle cx="469.29" cy="680.10" r="3.10" fill="#001023" stroke="#e3b72e" stroke-width="2.3"/><rect x="468.69" y="678.50" width="1.2" height="1.4" fill="#c8d0e0" opacity="0.5"/><circle cx="469.29" cy="675.10" r="0.75" fill="#ee22ee"/><circle cx="469.29" cy="685.10" r="0.75" fill="#ee22ee"/><circle cx="464.29" cy="680.10" r="0.75" fill="#ee22ee"/><circle cx="474.29" cy="680.10" r="0.75" fill="#ee22ee"/><circle cx="482.49" cy="703.40" r="5.00" fill="#001023" stroke="#e3b72e" stroke-width="2.0"/><circle cx="453.19" cy="716.30" r="4.95" fill="#001023" stroke="#e3b72e" stroke-width="2.1"/><circle cx="512.19" cy="716.30" r="4.95" fill="#001023" stroke="#e3b72e" stroke-width="2.1"/><rect x="452.19" y="713.90" width="2" height="1.6" fill="#c0c8d8" opacity="0.4"/><rect x="451.79" y="717.20" width="3" height="0.9" fill="#8090b0" opacity="0.25"/><rect x="511.19" y="713.90" width="2" height="1.6" fill="#c0c8d8" opacity="0.4"/><rect x="510.79" y="717.20" width="3" height="0.9" fill="#8090b0" opacity="0.25"/><rect x="481.49" y="701.10" width="2" height="0.9" fill="#c0c8d8" opacity="0.35"/><rect x="482.69" y="704.60" width="1.3" height="1.3" fill="#a0b0c8" opacity="0.3"/><circle cx="482.49" cy="737.40" r="15.3" fill="#1cc3d1"/><circle cx="453.19" cy="768.10" r="8.10" fill="#4d7fc4"/><circle cx="453.19" cy="768.10" r="5.95" fill="#001023" stroke="#e3b72e" stroke-width="2.2"/><circle cx="512.19" cy="768.10" r="8.10" fill="#4d7fc4"/><circle cx="512.19" cy="768.10" r="5.95" fill="#001023" stroke="#e3b72e" stroke-width="2.2"/><circle cx="633.17" cy="680.10" r="5.10" fill="#4d7fc4"/><circle cx="633.17" cy="680.10" r="3.15" fill="#001023" stroke="#e3b72e" stroke-width="2.5"/><rect x="632.57" y="678.50" width="1.2" height="1.4" fill="#c8d0e0" opacity="0.5"/><rect x="583.42" y="675.25" width="9.7" height="9.7" fill="#5288d2"/><circle cx="588.27" cy="680.10" r="3.10" fill="#001023" stroke="#e3b72e" stroke-width="2.3"/><rect x="587.67" y="678.50" width="1.2" height="1.4" fill="#c8d0e0" opacity="0.5"/><circle cx="588.27" cy="675.10" r="0.75" fill="#ee22ee"/><circle cx="588.27" cy="685.10" r="0.75" fill="#ee22ee"/><circle cx="583.27" cy="680.10" r="0.75" fill="#ee22ee"/><circle cx="593.27" cy="680.10" r="0.75" fill="#ee22ee"/><circle cx="603.47" cy="703.40" r="5.00" fill="#001023" stroke="#e3b72e" stroke-width="2.0"/><circle cx="574.17" cy="716.30" r="4.95" fill="#001023" stroke="#e3b72e" stroke-width="2.1"/><circle cx="633.17" cy="716.30" r="4.95" fill="#001023" stroke="#e3b72e" stroke-width="2.1"/><rect x="573.17" y="713.90" width="2" height="1.6" fill="#c0c8d8" opacity="0.4"/><rect x="572.77" y="717.20" width="3" height="0.9" fill="#8090b0" opacity="0.25"/><rect x="632.17" y="713.90" width="2" height="1.6" fill="#c0c8d8" opacity="0.4"/><rect x="631.77" y="717.20" width="3" height="0.9" fill="#8090b0" opacity="0.25"/><rect x="602.47" y="701.10" width="2" height="0.9" fill="#c0c8d8" opacity="0.35"/><rect x="603.67" y="704.60" width="1.3" height="1.3" fill="#a0b0c8" opacity="0.3"/><circle cx="603.47" cy="737.40" r="15.3" fill="#1cc3d1"/><circle cx="574.17" cy="768.10" r="8.10" fill="#4d7fc4"/><circle cx="574.17" cy="768.10" r="5.95" fill="#001023" stroke="#e3b72e" stroke-width="2.2"/><circle cx="633.17" cy="768.10" r="8.10" fill="#4d7fc4"/><circle cx="633.17" cy="768.10" r="5.95" fill="#001023" stroke="#e3b72e" stroke-width="2.2"/><circle cx="754.15" cy="680.10" r="5.10" fill="#4d7fc4"/><circle cx="754.15" cy="680.10" r="3.15" fill="#001023" stroke="#e3b72e" stroke-width="2.5"/><rect x="753.55" y="678.50" width="1.2" height="1.4" fill="#c8d0e0" opacity="0.5"/><rect x="704.40" y="675.25" width="9.7" height="9.7" fill="#5288d2"/><circle cx="709.25" cy="680.10" r="3.10" fill="#001023" stroke="#e3b72e" stroke-width="2.3"/><rect x="708.65" y="678.50" width="1.2" height="1.4" fill="#c8d0e0" opacity="0.5"/><circle cx="709.25" cy="675.10" r="0.75" fill="#ee22ee"/><circle cx="709.25" cy="685.10" r="0.75" fill="#ee22ee"/><circle cx="704.25" cy="680.10" r="0.75" fill="#ee22ee"/><circle cx="714.25" cy="680.10" r="0.75" fill="#ee22ee"/><circle cx="724.45" cy="703.40" r="5.00" fill="#001023" stroke="#e3b72e" stroke-width="2.0"/><circle cx="695.15" cy="716.30" r="4.95" fill="#001023" stroke="#e3b72e" stroke-width="2.1"/><circle cx="754.15" cy="716.30" r="4.95" fill="#001023" stroke="#e3b72e" stroke-width="2.1"/><rect x="694.15" y="713.90" width="2" height="1.6" fill="#c0c8d8" opacity="0.4"/><rect x="693.75" y="717.20" width="3" height="0.9" fill="#8090b0" opacity="0.25"/><rect x="753.15" y="713.90" width="2" height="1.6" fill="#c0c8d8" opacity="0.4"/><rect x="752.75" y="717.20" width="3" height="0.9" fill="#8090b0" opacity="0.25"/><rect x="723.45" y="701.10" width="2" height="0.9" fill="#c0c8d8" opacity="0.35"/><rect x="724.65" y="704.60" width="1.3" height="1.3" fill="#a0b0c8" opacity="0.3"/><circle cx="724.45" cy="737.40" r="15.3" fill="#1cc3d1"/><circle cx="695.15" cy="768.10" r="8.10" fill="#4d7fc4"/><circle cx="695.15" cy="768.10" r="5.95" fill="#001023" stroke="#e3b72e" stroke-width="2.2"/><circle cx="754.15" cy="768.10" r="8.10" fill="#4d7fc4"/><circle cx="754.15" cy="768.10" r="5.95" fill="#001023" stroke="#e3b72e" stroke-width="2.2"/><line x1="411.80" y1="200.40" x2="411.80" y2="317.00" stroke="#4d7fc4" stroke-width="2.1" stroke-linecap="butt"/><line x1="417.70" y1="200.40" x2="417.70" y2="312.50" stroke="#4d7fc4" stroke-width="2.1" stroke-linecap="butt"/><line x1="417.70" y1="321.40" x2="417.70" y2="438.60" stroke="#4d7fc4" stroke-width="2.1" stroke-linecap="butt"/><line x1="423.70" y1="200.40" x2="423.70" y2="312.50" stroke="#4d7fc4" stroke-width="2.1" stroke-linecap="butt"/><line x1="423.70" y1="321.40" x2="423.70" y2="434.40" stroke="#4d7fc4" stroke-width="2.1" stroke-linecap="butt"/><line x1="423.70" y1="443.30" x2="423.70" y2="560.50" stroke="#4d7fc4" stroke-width="2.1" stroke-linecap="butt"/><line x1="429.70" y1="200.40" x2="429.70" y2="312.50" stroke="#4d7fc4" stroke-width="2.1" stroke-linecap="butt"/><line x1="429.70" y1="321.40" x2="429.70" y2="434.40" stroke="#4d7fc4" stroke-width="2.1" stroke-linecap="butt"/><line x1="429.70" y1="443.30" x2="429.70" y2="555.50" stroke="#4d7fc4" stroke-width="2.1" stroke-linecap="butt"/><line x1="429.70" y1="564.50" x2="429.70" y2="673.00" stroke="#4d7fc4" stroke-width="2.1" stroke-linecap="butt"/><rect x="490.6" y="33.2" width="302.7" height="142.3" fill="none" stroke="#1f6f7a" stroke-width="1"/><line x1="491.4" y1="42.3" x2="793.5" y2="42.3" stroke="#3b3b44" stroke-width="1"/><line x1="491.4" y1="42.3" x2="491.4" y2="167" stroke="#3b3b44" stroke-width="1"/><line x1="491.4" y1="167" x2="793.5" y2="167" stroke="#3b3b44" stroke-width="1"/><polyline points="768,83.5 800.4,83.5" fill="none" stroke="#3b3b44" stroke-width="1"/><polyline points="768,83.5 768,125 800.4,125" fill="none" stroke="#3b3b44" stroke-width="1"/><line x1="793.5" y1="33" x2="793.5" y2="167" stroke="#3b3b44" stroke-width="1"/><polyline points="499.30,46.00 499.30,98.10 406.00,191.40 406.00,196.00" fill="none" stroke="#4d7fc4" stroke-width="2.1" stroke-linejoin="round" stroke-linecap="round"/><polyline points="514.31,46.00 514.31,88.89 411.80,191.40" fill="none" stroke="#4d7fc4" stroke-width="2.1" stroke-linejoin="round" stroke-linecap="round"/><polyline points="544.32,46.00 544.32,64.78 417.70,191.40" fill="none" stroke="#4d7fc4" stroke-width="2.1" stroke-linejoin="round" stroke-linecap="round"/><polyline points="559.32,46.00 559.32,55.78 423.70,191.40" fill="none" stroke="#4d7fc4" stroke-width="2.1" stroke-linejoin="round" stroke-linecap="round"/><polyline points="574.33,46.00 429.70,191.40" fill="none" stroke="#4d7fc4" stroke-width="2.1" stroke-linejoin="round" stroke-linecap="round"/><polyline points="724.20,63.40 724.20,79.30 764.60,79.30 769.10,84.00" fill="none" stroke="#4d7fc4" stroke-width="2.1" stroke-linejoin="round" stroke-linecap="round"/><path d="M768.5 84V154M770.5 84V154" stroke="#4d7fc4" stroke-width="1.1"/><polyline points="769.40,54.00 769.40,59.00 763.80,64.50 763.80,73.20" fill="none" stroke="#4d7fc4" stroke-width="3.4" stroke-linejoin="round"/><polyline points="769.40,54.00 769.40,59.00 763.80,64.50 763.80,73.20" fill="none" stroke="#001023" stroke-width="1.3" stroke-linejoin="round"/><polyline points="784.40,54.00 769.00,68.40 769.20,77.10" fill="none" stroke="#4d7fc4" stroke-width="3.4" stroke-linejoin="round"/><polyline points="784.40,54.00 769.00,68.40 769.20,77.10" fill="none" stroke="#001023" stroke-width="1.3" stroke-linejoin="round"/><path d="M753.5 148.3V154M755.5 148.3V154" stroke="#4d7fc4" stroke-width="1.1"/><circle cx="662.6" cy="92.3" r="1.3" fill="#e3b72e"/><circle cx="670.4" cy="92.3" r="1.3" fill="#e3b72e"/><circle cx="662.6" cy="98.2" r="1.3" fill="#e3b72e"/><circle cx="670.4" cy="98.2" r="1.3" fill="#e3b72e"/><rect x="494.90" y="36" width="8.8" height="17.8" rx="1.3" fill="#5283cc"/><rect x="494.90" y="154" width="8.8" height="17.8" rx="1.3" fill="#5283cc"/><rect x="509.91" y="36" width="8.8" height="17.8" rx="1.3" fill="#5283cc"/><rect x="509.91" y="154" width="8.8" height="17.8" rx="1.3" fill="#5283cc"/><rect x="524.91" y="36" width="8.8" height="17.8" rx="1.3" fill="#5283cc"/><rect x="524.91" y="154" width="8.8" height="17.8" rx="1.3" fill="#5283cc"/><rect x="539.92" y="36" width="8.8" height="17.8" rx="1.3" fill="#5283cc"/><rect x="539.92" y="154" width="8.8" height="17.8" rx="1.3" fill="#5283cc"/><rect x="554.92" y="36" width="8.8" height="17.8" rx="1.3" fill="#5283cc"/><rect x="554.92" y="154" width="8.8" height="17.8" rx="1.3" fill="#5283cc"/><rect x="569.93" y="36" width="8.8" height="17.8" rx="1.3" fill="#5283cc"/><rect x="569.93" y="154" width="8.8" height="17.8" rx="1.3" fill="#5283cc"/><rect x="584.93" y="36" width="8.8" height="17.8" rx="1.3" fill="#5283cc"/><rect x="584.93" y="154" width="8.8" height="17.8" rx="1.3" fill="#5283cc"/><rect x="599.94" y="36" width="8.8" height="17.8" rx="1.3" fill="#5283cc"/><rect x="599.94" y="154" width="8.8" height="17.8" rx="1.3" fill="#5283cc"/><rect x="614.94" y="36" width="8.8" height="17.8" rx="1.3" fill="#5283cc"/><rect x="614.94" y="154" width="8.8" height="17.8" rx="1.3" fill="#5283cc"/><rect x="629.95" y="36" width="8.8" height="17.8" rx="1.3" fill="#5283cc"/><rect x="629.95" y="154" width="8.8" height="17.8" rx="1.3" fill="#5283cc"/><rect x="644.95" y="36" width="8.8" height="17.8" rx="1.3" fill="#5283cc"/><rect x="644.95" y="154" width="8.8" height="17.8" rx="1.3" fill="#5283cc"/><rect x="659.96" y="36" width="8.8" height="17.8" rx="1.3" fill="#5283cc"/><rect x="659.96" y="154" width="8.8" height="17.8" rx="1.3" fill="#5283cc"/><rect x="674.96" y="36" width="8.8" height="17.8" rx="1.3" fill="#5283cc"/><rect x="674.96" y="154" width="8.8" height="17.8" rx="1.3" fill="#5283cc"/><rect x="689.97" y="36" width="8.8" height="17.8" rx="1.3" fill="#5283cc"/><rect x="689.97" y="154" width="8.8" height="17.8" rx="1.3" fill="#5283cc"/><rect x="704.97" y="36" width="8.8" height="17.8" rx="1.3" fill="#5283cc"/><rect x="704.97" y="154" width="8.8" height="17.8" rx="1.3" fill="#5283cc"/><rect x="719.98" y="36" width="8.8" height="17.8" rx="1.3" fill="#5283cc"/><rect x="719.98" y="154" width="8.8" height="17.8" rx="1.3" fill="#5283cc"/><rect x="734.98" y="36" width="8.8" height="17.8" rx="1.3" fill="#5283cc"/><rect x="734.98" y="154" width="8.8" height="17.8" rx="1.3" fill="#5283cc"/><rect x="749.99" y="36" width="8.8" height="17.8" rx="1.3" fill="#5283cc"/><rect x="749.99" y="154" width="8.8" height="17.8" rx="1.3" fill="#5283cc"/><rect x="764.99" y="36" width="8.8" height="17.8" rx="1.3" fill="#5283cc"/><rect x="764.99" y="154" width="8.8" height="17.8" rx="1.3" fill="#5283cc"/><rect x="780.00" y="36" width="8.8" height="17.8" rx="1.3" fill="#5283cc"/><rect x="780.00" y="154" width="8.8" height="17.8" rx="1.3" fill="#5283cc"/><rect x="496.10" y="41.00" width="1.1" height="8" fill="#c8d8f0" opacity="0.45"/><rect x="500.90" y="43.00" width="1.4" height="4.5" fill="#c8d8f0" opacity="0.3"/><rect x="496.10" y="159.00" width="1.1" height="8" fill="#c8d8f0" opacity="0.45"/><rect x="500.90" y="161.00" width="1.4" height="4.5" fill="#c8d8f0" opacity="0.3"/><rect x="511.11" y="41.00" width="1.1" height="8" fill="#c8d8f0" opacity="0.45"/><rect x="515.91" y="43.00" width="1.4" height="4.5" fill="#c8d8f0" opacity="0.3"/><rect x="511.11" y="159.00" width="1.1" height="8" fill="#c8d8f0" opacity="0.45"/><rect x="515.91" y="161.00" width="1.4" height="4.5" fill="#c8d8f0" opacity="0.3"/><rect x="526.11" y="41.00" width="1.1" height="8" fill="#c8d8f0" opacity="0.45"/><rect x="530.91" y="43.00" width="1.4" height="4.5" fill="#c8d8f0" opacity="0.3"/><rect x="526.11" y="159.00" width="1.1" height="8" fill="#c8d8f0" opacity="0.45"/><rect x="530.91" y="161.00" width="1.4" height="4.5" fill="#c8d8f0" opacity="0.3"/><rect x="541.12" y="41.00" width="1.1" height="8" fill="#c8d8f0" opacity="0.45"/><rect x="545.92" y="43.00" width="1.4" height="4.5" fill="#c8d8f0" opacity="0.3"/><rect x="541.12" y="159.00" width="1.1" height="8" fill="#c8d8f0" opacity="0.45"/><rect x="545.92" y="161.00" width="1.4" height="4.5" fill="#c8d8f0" opacity="0.3"/><rect x="556.12" y="41.00" width="1.1" height="8" fill="#c8d8f0" opacity="0.45"/><rect x="560.92" y="43.00" width="1.4" height="4.5" fill="#c8d8f0" opacity="0.3"/><rect x="556.12" y="159.00" width="1.1" height="8" fill="#c8d8f0" opacity="0.45"/><rect x="560.92" y="161.00" width="1.4" height="4.5" fill="#c8d8f0" opacity="0.3"/><rect x="571.12" y="41.00" width="1.1" height="8" fill="#c8d8f0" opacity="0.45"/><rect x="575.93" y="43.00" width="1.4" height="4.5" fill="#c8d8f0" opacity="0.3"/><rect x="571.12" y="159.00" width="1.1" height="8" fill="#c8d8f0" opacity="0.45"/><rect x="575.93" y="161.00" width="1.4" height="4.5" fill="#c8d8f0" opacity="0.3"/><rect x="586.13" y="41.00" width="1.1" height="8" fill="#c8d8f0" opacity="0.45"/><rect x="590.93" y="43.00" width="1.4" height="4.5" fill="#c8d8f0" opacity="0.3"/><rect x="586.13" y="159.00" width="1.1" height="8" fill="#c8d8f0" opacity="0.45"/><rect x="590.93" y="161.00" width="1.4" height="4.5" fill="#c8d8f0" opacity="0.3"/><rect x="601.13" y="41.00" width="1.1" height="8" fill="#c8d8f0" opacity="0.45"/><rect x="605.94" y="43.00" width="1.4" height="4.5" fill="#c8d8f0" opacity="0.3"/><rect x="601.13" y="159.00" width="1.1" height="8" fill="#c8d8f0" opacity="0.45"/><rect x="605.94" y="161.00" width="1.4" height="4.5" fill="#c8d8f0" opacity="0.3"/><rect x="616.14" y="41.00" width="1.1" height="8" fill="#c8d8f0" opacity="0.45"/><rect x="620.94" y="43.00" width="1.4" height="4.5" fill="#c8d8f0" opacity="0.3"/><rect x="616.14" y="159.00" width="1.1" height="8" fill="#c8d8f0" opacity="0.45"/><rect x="620.94" y="161.00" width="1.4" height="4.5" fill="#c8d8f0" opacity="0.3"/><rect x="631.14" y="41.00" width="1.1" height="8" fill="#c8d8f0" opacity="0.45"/><rect x="635.95" y="43.00" width="1.4" height="4.5" fill="#c8d8f0" opacity="0.3"/><rect x="631.14" y="159.00" width="1.1" height="8" fill="#c8d8f0" opacity="0.45"/><rect x="635.95" y="161.00" width="1.4" height="4.5" fill="#c8d8f0" opacity="0.3"/><rect x="646.15" y="41.00" width="1.1" height="8" fill="#c8d8f0" opacity="0.45"/><rect x="650.95" y="43.00" width="1.4" height="4.5" fill="#c8d8f0" opacity="0.3"/><rect x="646.15" y="159.00" width="1.1" height="8" fill="#c8d8f0" opacity="0.45"/><rect x="650.95" y="161.00" width="1.4" height="4.5" fill="#c8d8f0" opacity="0.3"/><rect x="661.15" y="41.00" width="1.1" height="8" fill="#c8d8f0" opacity="0.45"/><rect x="665.96" y="43.00" width="1.4" height="4.5" fill="#c8d8f0" opacity="0.3"/><rect x="661.15" y="159.00" width="1.1" height="8" fill="#c8d8f0" opacity="0.45"/><rect x="665.96" y="161.00" width="1.4" height="4.5" fill="#c8d8f0" opacity="0.3"/><rect x="676.16" y="41.00" width="1.1" height="8" fill="#c8d8f0" opacity="0.45"/><rect x="680.96" y="43.00" width="1.4" height="4.5" fill="#c8d8f0" opacity="0.3"/><rect x="676.16" y="159.00" width="1.1" height="8" fill="#c8d8f0" opacity="0.45"/><rect x="680.96" y="161.00" width="1.4" height="4.5" fill="#c8d8f0" opacity="0.3"/><rect x="691.16" y="41.00" width="1.1" height="8" fill="#c8d8f0" opacity="0.45"/><rect x="695.97" y="43.00" width="1.4" height="4.5" fill="#c8d8f0" opacity="0.3"/><rect x="691.16" y="159.00" width="1.1" height="8" fill="#c8d8f0" opacity="0.45"/><rect x="695.97" y="161.00" width="1.4" height="4.5" fill="#c8d8f0" opacity="0.3"/><rect x="706.17" y="41.00" width="1.1" height="8" fill="#c8d8f0" opacity="0.45"/><rect x="710.97" y="43.00" width="1.4" height="4.5" fill="#c8d8f0" opacity="0.3"/><rect x="706.17" y="159.00" width="1.1" height="8" fill="#c8d8f0" opacity="0.45"/><rect x="710.97" y="161.00" width="1.4" height="4.5" fill="#c8d8f0" opacity="0.3"/><rect x="721.17" y="41.00" width="1.1" height="8" fill="#c8d8f0" opacity="0.45"/><rect x="725.98" y="43.00" width="1.4" height="4.5" fill="#c8d8f0" opacity="0.3"/><rect x="721.17" y="159.00" width="1.1" height="8" fill="#c8d8f0" opacity="0.45"/><rect x="725.98" y="161.00" width="1.4" height="4.5" fill="#c8d8f0" opacity="0.3"/><rect x="736.18" y="41.00" width="1.1" height="8" fill="#c8d8f0" opacity="0.45"/><rect x="740.98" y="43.00" width="1.4" height="4.5" fill="#c8d8f0" opacity="0.3"/><rect x="736.18" y="159.00" width="1.1" height="8" fill="#c8d8f0" opacity="0.45"/><rect x="740.98" y="161.00" width="1.4" height="4.5" fill="#c8d8f0" opacity="0.3"/><rect x="751.18" y="41.00" width="1.1" height="8" fill="#c8d8f0" opacity="0.45"/><rect x="755.99" y="43.00" width="1.4" height="4.5" fill="#c8d8f0" opacity="0.3"/><rect x="751.18" y="159.00" width="1.1" height="8" fill="#c8d8f0" opacity="0.45"/><rect x="755.99" y="161.00" width="1.4" height="4.5" fill="#c8d8f0" opacity="0.3"/><rect x="766.19" y="41.00" width="1.1" height="8" fill="#c8d8f0" opacity="0.45"/><rect x="770.99" y="43.00" width="1.4" height="4.5" fill="#c8d8f0" opacity="0.3"/><rect x="766.19" y="159.00" width="1.1" height="8" fill="#c8d8f0" opacity="0.45"/><rect x="770.99" y="161.00" width="1.4" height="4.5" fill="#c8d8f0" opacity="0.3"/><rect x="781.19" y="41.00" width="1.1" height="8" fill="#c8d8f0" opacity="0.45"/><rect x="786.00" y="43.00" width="1.4" height="4.5" fill="#c8d8f0" opacity="0.3"/><rect x="781.19" y="159.00" width="1.1" height="8" fill="#c8d8f0" opacity="0.45"/><rect x="786.00" y="161.00" width="1.4" height="4.5" fill="#c8d8f0" opacity="0.3"/><circle cx="499.30" cy="45.3" r="1.3" fill="#e3b72e"/><circle cx="514.31" cy="45.3" r="1.3" fill="#e3b72e"/><circle cx="544.32" cy="45.3" r="1.3" fill="#e3b72e"/><circle cx="559.32" cy="45.3" r="1.3" fill="#e3b72e"/><circle cx="574.33" cy="45.3" r="1.3" fill="#e3b72e"/><circle cx="499.30" cy="163" r="1.3" fill="#e3b72e"/><circle cx="514.31" cy="163" r="1.3" fill="#e3b72e"/><circle cx="544.32" cy="163" r="1.3" fill="#e3b72e"/><circle cx="559.32" cy="163" r="1.3" fill="#e3b72e"/><circle cx="574.33" cy="163" r="1.3" fill="#e3b72e"/><circle cx="589.33" cy="163" r="1.3" fill="#e3b72e"/><rect x="471.30" y="52.40" width="11" height="7.2" rx="1.5" fill="#5283cc"/><rect x="473.80" y="57.30" width="6" height="1.3" fill="#c8d8f0" opacity="0.45"/><rect x="476.30" y="53.00" width="1" height="1.6" fill="#c8d8f0" opacity="0.4"/><path d="M475.5 56H478.1M476.8 54.7V57.3" stroke="#e3b72e" stroke-width="0.9"/><rect x="471.30" y="70.20" width="11" height="7.2" rx="1.5" fill="#5283cc"/><rect x="473.80" y="75.10" width="6" height="1.3" fill="#c8d8f0" opacity="0.45"/><rect x="476.30" y="70.80" width="1" height="1.6" fill="#c8d8f0" opacity="0.4"/><path d="M475.5 73.8H478.1M476.8 72.5V75.1" stroke="#e3b72e" stroke-width="0.9"/><rect x="471.30" y="93.50" width="11" height="8.4" rx="1.5" fill="#5283cc"/><rect x="473.80" y="99.00" width="6" height="1.3" fill="#c8d8f0" opacity="0.45"/><rect x="476.30" y="94.70" width="1" height="1.6" fill="#c8d8f0" opacity="0.4"/><path d="M475.5 97.7H478.1M476.8 96.4V99.0" stroke="#e3b72e" stroke-width="0.9"/><rect x="435.50" y="100.20" width="12" height="7.2" rx="1.5" fill="#5283cc"/><rect x="438.50" y="105.10" width="6" height="1.3" fill="#c8d8f0" opacity="0.45"/><rect x="441.00" y="100.80" width="1" height="1.6" fill="#c8d8f0" opacity="0.4"/><path d="M440.2 103.8H442.8M441.5 102.5V105.1" stroke="#e3b72e" stroke-width="0.9"/><path d="M454.0 37.5H465.0M459.5 32.0V43.0" stroke="#f526f0" stroke-width="1.1" fill="none"/><path d="M642 99V107M642 108V110.5" stroke="#ee22ee" stroke-width="2"/><path d="M636 104.5H648" stroke="#ee22ee" stroke-width="1" stroke-dasharray="2 1"/><path d="M454.2 112.6H458.6L454.2 118.6H458.6M460.2 118.8V114Q460.2 112.6 461.6 112.6H462.6Q464 112.6 464 114V118.8" fill="none" stroke="#4a454d" stroke-width="1"/><circle cx="411.8" cy="191.4" r="1.9" fill="#4d7fc4"/><path d="M410.10 191.40L411.80 189.70L413.50 191.40L411.80 193.10Z" fill="#e3b72e"/><circle cx="411.8" cy="200.4" r="1.9" fill="#4d7fc4"/><path d="M410.10 200.40L411.80 198.70L413.50 200.40L411.80 202.10Z" fill="#e3b72e"/><circle cx="417.7" cy="191.4" r="1.9" fill="#4d7fc4"/><path d="M416.00 191.40L417.70 189.70L419.40 191.40L417.70 193.10Z" fill="#e3b72e"/><circle cx="417.7" cy="200.4" r="1.9" fill="#4d7fc4"/><path d="M416.00 200.40L417.70 198.70L419.40 200.40L417.70 202.10Z" fill="#e3b72e"/><circle cx="423.7" cy="191.4" r="1.9" fill="#4d7fc4"/><path d="M422.00 191.40L423.70 189.70L425.40 191.40L423.70 193.10Z" fill="#e3b72e"/><circle cx="423.7" cy="200.4" r="1.9" fill="#4d7fc4"/><path d="M422.00 200.40L423.70 198.70L425.40 200.40L423.70 202.10Z" fill="#e3b72e"/><circle cx="429.7" cy="191.4" r="1.9" fill="#4d7fc4"/><path d="M428.00 191.40L429.70 189.70L431.40 191.40L429.70 193.10Z" fill="#e3b72e"/><circle cx="429.7" cy="200.4" r="1.9" fill="#4d7fc4"/><path d="M428.00 200.40L429.70 198.70L431.40 200.40L429.70 202.10Z" fill="#e3b72e"/><circle cx="417.7" cy="312.5" r="1.9" fill="#4d7fc4"/><path d="M416.00 312.50L417.70 310.80L419.40 312.50L417.70 314.20Z" fill="#e3b72e"/><circle cx="417.7" cy="321.4" r="1.9" fill="#4d7fc4"/><path d="M416.00 321.40L417.70 319.70L419.40 321.40L417.70 323.10Z" fill="#e3b72e"/><circle cx="423.7" cy="312.5" r="1.9" fill="#4d7fc4"/><path d="M422.00 312.50L423.70 310.80L425.40 312.50L423.70 314.20Z" fill="#e3b72e"/><circle cx="423.7" cy="321.4" r="1.9" fill="#4d7fc4"/><path d="M422.00 321.40L423.70 319.70L425.40 321.40L423.70 323.10Z" fill="#e3b72e"/><circle cx="429.7" cy="312.5" r="1.9" fill="#4d7fc4"/><path d="M428.00 312.50L429.70 310.80L431.40 312.50L429.70 314.20Z" fill="#e3b72e"/><circle cx="429.7" cy="321.4" r="1.9" fill="#4d7fc4"/><path d="M428.00 321.40L429.70 319.70L431.40 321.40L429.70 323.10Z" fill="#e3b72e"/><circle cx="423.7" cy="434.4" r="1.9" fill="#4d7fc4"/><path d="M422.00 434.40L423.70 432.70L425.40 434.40L423.70 436.10Z" fill="#e3b72e"/><circle cx="423.7" cy="443.3" r="1.9" fill="#4d7fc4"/><path d="M422.00 443.30L423.70 441.60L425.40 443.30L423.70 445.00Z" fill="#e3b72e"/><circle cx="429.7" cy="434.4" r="1.9" fill="#4d7fc4"/><path d="M428.00 434.40L429.70 432.70L431.40 434.40L429.70 436.10Z" fill="#e3b72e"/><circle cx="429.7" cy="443.3" r="1.9" fill="#4d7fc4"/><path d="M428.00 443.30L429.70 441.60L431.40 443.30L429.70 445.00Z" fill="#e3b72e"/><circle cx="429.7" cy="555.5" r="1.9" fill="#4d7fc4"/><path d="M428.00 555.50L429.70 553.80L431.40 555.50L429.70 557.20Z" fill="#e3b72e"/><circle cx="429.7" cy="564.5" r="1.9" fill="#4d7fc4"/><path d="M428.00 564.50L429.70 562.80L431.40 564.50L429.70 566.20Z" fill="#e3b72e"/><circle cx="724.2" cy="63.4" r="1.9" fill="#4d7fc4"/><path d="M722.50 63.40L724.20 61.70L725.90 63.40L724.20 65.10Z" fill="#e3b72e"/><circle cx="724.2" cy="79.3" r="1.9" fill="#4d7fc4"/><path d="M722.50 79.30L724.20 77.60L725.90 79.30L724.20 81.00Z" fill="#e3b72e"/><circle cx="763.8" cy="73.2" r="1.9" fill="#4d7fc4"/><path d="M762.10 73.20L763.80 71.50L765.50 73.20L763.80 74.90Z" fill="#e3b72e"/><circle cx="768.6" cy="68.4" r="1.9" fill="#4d7fc4"/><path d="M766.90 68.40L768.60 66.70L770.30 68.40L768.60 70.10Z" fill="#e3b72e"/><circle cx="769.2" cy="77.1" r="1.9" fill="#4d7fc4"/><path d="M767.50 77.10L769.20 75.40L770.90 77.10L769.20 78.80Z" fill="#e3b72e"/><circle cx="754.3" cy="148.3" r="1.9" fill="#4d7fc4"/><path d="M752.60 148.30L754.30 146.60L756.00 148.30L754.30 150.00Z" fill="#e3b72e"/></svg></body></html>
